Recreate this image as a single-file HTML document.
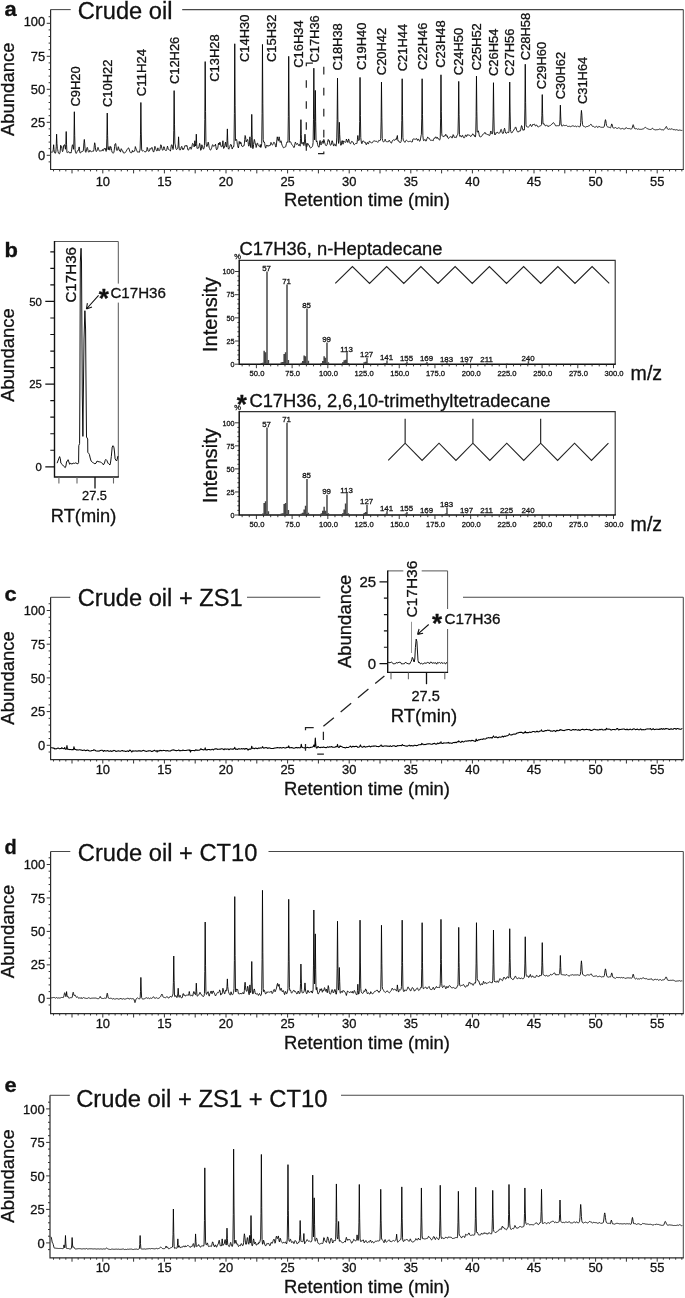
<!DOCTYPE html>
<html><head><meta charset="utf-8"><title>Figure</title>
<style>html,body{margin:0;padding:0;background:#fff}svg{display:block}text{font-family:"Liberation Sans", sans-serif;stroke:#111;stroke-width:.3px}</style>
</head><body>
<svg width="685" height="1298" viewBox="0 0 685 1298">
<rect width="685" height="1298" fill="#fff"/>
<g opacity="0.999">
<path d="M683.3,169.5 V9.6" fill="none" stroke="#484848" stroke-width="1.05"/>
<path d="M50.6,9.6 V169.5 H683.8" fill="none" stroke="#2a2a2a" stroke-width="1.2"/>
<line x1="50.6" y1="9.6" x2="70.7" y2="9.6" stroke="#484848" stroke-width="1.05"/>
<line x1="182.2" y1="9.6" x2="683.3" y2="9.6" stroke="#484848" stroke-width="1.05"/>
<path d="M50.6,161.9 h-2M50.6,155.3 h-3.9M50.6,148.7 h-2M50.6,142.1 h-2M50.6,135.5 h-2M50.6,128.9 h-2M50.6,122.3 h-3.9M50.6,115.7 h-2M50.6,109.1 h-2M50.6,102.5 h-2M50.6,95.9 h-2M50.6,89.3 h-3.9M50.6,82.7 h-2M50.6,76.1 h-2M50.6,69.5 h-2M50.6,62.9 h-2M50.6,56.3 h-3.9M50.6,49.7 h-2M50.6,43.1 h-2M50.6,36.5 h-2M50.6,29.9 h-2M50.6,23.3 h-3.9M50.6,16.7 h-2" fill="none" stroke="#333" stroke-width="1"/>
<text x="45.2" y="159.9" font-size="12.9" text-anchor="end" fill="#111">0</text>
<text x="45.2" y="126.9" font-size="12.9" text-anchor="end" fill="#111">25</text>
<text x="45.2" y="93.9" font-size="12.9" text-anchor="end" fill="#111">50</text>
<text x="45.2" y="60.9" font-size="12.9" text-anchor="end" fill="#111">75</text>
<text x="45.2" y="26.1" font-size="12.9" text-anchor="end" fill="#111">100</text>
<path d="M53.52,169.5 v1.9M59.68,169.5 v1.9M65.84,169.5 v1.9M72,169.5 v3.9M78.16,169.5 v1.9M84.32,169.5 v1.9M90.48,169.5 v1.9M96.64,169.5 v1.9M102.8,169.5 v3.9M108.96,169.5 v1.9M115.12,169.5 v1.9M121.28,169.5 v1.9M127.44,169.5 v1.9M133.6,169.5 v3.9M139.76,169.5 v1.9M145.92,169.5 v1.9M152.08,169.5 v1.9M158.24,169.5 v1.9M164.4,169.5 v3.9M170.56,169.5 v1.9M176.72,169.5 v1.9M182.88,169.5 v1.9M189.04,169.5 v1.9M195.2,169.5 v3.9M201.36,169.5 v1.9M207.52,169.5 v1.9M213.68,169.5 v1.9M219.84,169.5 v1.9M226,169.5 v3.9M232.16,169.5 v1.9M238.32,169.5 v1.9M244.48,169.5 v1.9M250.64,169.5 v1.9M256.8,169.5 v3.9M262.96,169.5 v1.9M269.12,169.5 v1.9M275.28,169.5 v1.9M281.44,169.5 v1.9M287.6,169.5 v3.9M293.76,169.5 v1.9M299.92,169.5 v1.9M306.08,169.5 v1.9M312.24,169.5 v1.9M318.4,169.5 v3.9M324.56,169.5 v1.9M330.72,169.5 v1.9M336.88,169.5 v1.9M343.04,169.5 v1.9M349.2,169.5 v3.9M355.36,169.5 v1.9M361.52,169.5 v1.9M367.68,169.5 v1.9M373.84,169.5 v1.9M380,169.5 v3.9M386.16,169.5 v1.9M392.32,169.5 v1.9M398.48,169.5 v1.9M404.64,169.5 v1.9M410.8,169.5 v3.9M416.96,169.5 v1.9M423.12,169.5 v1.9M429.28,169.5 v1.9M435.44,169.5 v1.9M441.6,169.5 v3.9M447.76,169.5 v1.9M453.92,169.5 v1.9M460.08,169.5 v1.9M466.24,169.5 v1.9M472.4,169.5 v3.9M478.56,169.5 v1.9M484.72,169.5 v1.9M490.88,169.5 v1.9M497.04,169.5 v1.9M503.2,169.5 v3.9M509.36,169.5 v1.9M515.52,169.5 v1.9M521.68,169.5 v1.9M527.84,169.5 v1.9M534,169.5 v3.9M540.16,169.5 v1.9M546.32,169.5 v1.9M552.48,169.5 v1.9M558.64,169.5 v1.9M564.8,169.5 v3.9M570.96,169.5 v1.9M577.12,169.5 v1.9M583.28,169.5 v1.9M589.44,169.5 v1.9M595.6,169.5 v3.9M601.76,169.5 v1.9M607.92,169.5 v1.9M614.08,169.5 v1.9M620.24,169.5 v1.9M626.4,169.5 v3.9M632.56,169.5 v1.9M638.72,169.5 v1.9M644.88,169.5 v1.9M651.04,169.5 v1.9M657.2,169.5 v3.9M663.36,169.5 v1.9M669.52,169.5 v1.9M675.68,169.5 v1.9M681.84,169.5 v1.9" fill="none" stroke="#333" stroke-width="1"/>
<text x="102.8" y="185.8" font-size="12.9" text-anchor="middle" fill="#111">10</text>
<text x="164.4" y="185.8" font-size="12.9" text-anchor="middle" fill="#111">15</text>
<text x="226" y="185.8" font-size="12.9" text-anchor="middle" fill="#111">20</text>
<text x="287.6" y="185.8" font-size="12.9" text-anchor="middle" fill="#111">25</text>
<text x="349.2" y="185.8" font-size="12.9" text-anchor="middle" fill="#111">30</text>
<text x="410.8" y="185.8" font-size="12.9" text-anchor="middle" fill="#111">35</text>
<text x="472.4" y="185.8" font-size="12.9" text-anchor="middle" fill="#111">40</text>
<text x="534" y="185.8" font-size="12.9" text-anchor="middle" fill="#111">45</text>
<text x="595.6" y="185.8" font-size="12.9" text-anchor="middle" fill="#111">50</text>
<text x="657.2" y="185.8" font-size="12.9" text-anchor="middle" fill="#111">55</text>
<text x="367" y="205.5" font-size="18.2" text-anchor="middle" textLength="166" lengthAdjust="spacingAndGlyphs" fill="#111">Retention time (min)</text>
<text transform="translate(14.4,89.3) rotate(-90)" font-size="18.2" text-anchor="middle" textLength="93.5" lengthAdjust="spacingAndGlyphs" fill="#111">Abundance</text>
<text x="4.6" y="16" font-size="19.3" font-weight="bold" textLength="12.2" lengthAdjust="spacingAndGlyphs" fill="#111">a</text>
<text x="77.8" y="18.8" font-size="23.5" textLength="94.6" lengthAdjust="spacingAndGlyphs" fill="#111">Crude oil</text>
<path d="M51.06,151.8 51.43,152.06 51.8,152.32 52.16,152.48 52.53,152.13 52.9,151.6 53.27,149.33 53.64,144.74 54.01,149.35 54.38,152.25 54.75,152.96 55.12,153.42 55.49,153.06 55.86,151.98 56.23,146.25 56.6,134.18 56.97,143.68 57.34,148.29 57.71,149.72 58.08,151.66 58.45,153.03 58.82,153.52 59.19,153.81 59.56,153.76 59.93,152.87 60.3,150.15 60.67,145.28 61.04,146.06 61.4,147.29 61.77,146.78 62.14,150.33 62.51,151.69 62.88,151.14 63.25,149.21 63.62,145.65 63.99,145.61 64.36,144.74 64.73,144.77 65.1,147.16 65.47,149.24 65.84,144.48 66.21,131.54 66.58,144.81 66.95,152.34 67.32,152.74 67.69,152.46 68.06,152.17 68.43,151.92 68.8,151.67 69.17,152.22 69.54,152.89 69.91,153.1 70.28,152.43 70.64,152.95 71.01,153.16 71.38,151.7 71.75,149.09 72.12,146.11 72.49,144.74 72.86,145.51 73.23,147.74 73.6,149.28 73.97,138.99 74.34,111.74 74.71,135.79 75.08,149.78 75.45,151.9 75.82,152.83 76.19,153.44 76.56,152.82 76.93,152.14 77.3,151.3 77.67,150.58 78.04,150.09 78.41,150.3 78.78,148.97 79.15,146.92 79.52,149.72 79.88,152.41 80.25,153.13 80.62,152.84 80.99,152.27 81.36,151.68 81.73,151.67 82.1,151.52 82.47,151.46 82.84,151.42 83.21,150.99 83.58,148.08 83.95,142.43 84.32,139.46 84.69,143.17 85.06,148.7 85.43,151.82 85.8,152.33 86.17,151.51 86.54,149.84 86.91,148.07 87.28,147.38 87.65,148.52 88.02,150.34 88.39,151.64 88.76,152.23 89.12,152.03 89.49,151.06 89.86,150.19 90.23,150.66 90.6,151.4 90.97,151.59 91.34,151.65 91.71,151.66 92.08,151.55 92.45,151.32 92.82,151.09 93.19,151.28 93.56,151.2 93.93,149.54 94.3,145.41 94.67,142.76 95.04,144.13 95.41,147.82 95.78,150.44 96.15,151.46 96.52,151.41 96.89,150.97 97.26,149.9 97.63,148.28 98,147.38 98.36,148.17 98.73,149.66 99.1,150.68 99.47,151.02 99.84,151.04 100.21,150.98 100.58,150.91 100.95,150.82 101.32,150.74 101.69,151.02 102.06,150.52 102.43,149.54 102.8,150.55 103.17,150.85 103.54,149.66 103.91,148.7 104.28,148.96 104.65,148.86 105.02,148.03 105.39,148.97 105.76,150.69 106.13,151.41 106.5,150.37 106.87,138.2 107.24,113.06 107.6,135.27 107.97,149.22 108.34,149.81 108.71,147.36 109.08,146.52 109.45,149.46 109.82,150.18 110.19,148.32 110.56,146.46 110.93,146.76 111.3,148.4 111.67,150.52 112.04,152.03 112.41,152.68 112.78,152.99 113.15,152.99 113.52,152.93 113.89,152.59 114.26,150.28 114.63,146.38 115,144.08 115.37,143.69 115.74,143.58 116.11,146.76 116.48,149.71 116.84,150.41 117.21,150.4 117.58,149.88 117.95,148.14 118.32,146.72 118.69,147.74 119.06,149.88 119.43,150.58 119.8,149.82 120.17,151.58 120.54,151.93 120.91,150.24 121.28,148.7 121.65,149.41 122.02,150.52 122.39,150.84 122.76,150.77 123.13,152.17 123.5,152.96 123.87,153.11 124.24,153.24 124.61,152.99 124.98,152.53 125.35,152.08 125.72,151.88 126.08,151.62 126.45,150.86 126.82,149.77 127.19,149.55 127.56,149.14 127.93,148.6 128.3,147.72 128.67,148.04 129.04,148.81 129.41,150.06 129.78,151.35 130.15,152.23 130.52,152.64 130.89,152.77 131.26,152.79 131.63,152.73 132,152 132.37,150.48 132.74,151.77 133.11,152.05 133.48,151.54 133.85,151.09 134.22,151.19 134.59,151.11 134.96,149.54 135.32,146.58 135.69,147.63 136.06,148.7 136.43,149.44 136.8,150.7 137.17,151.72 137.54,152.08 137.91,151.77 138.28,151.57 138.65,151.97 139.02,152.5 139.39,151.91 139.76,150.9 140.13,148.89 140.5,134.82 140.87,102.5 141.24,131.95 141.61,148.99 141.98,150.82 142.35,151.02 142.72,150.79 143.09,150.47 143.46,150.62 143.83,150.99 144.2,151.37 144.56,151.64 144.93,151.88 145.3,152.12 145.67,151.4 146.04,150.9 146.41,151.1 146.78,150.98 147.15,147.38 147.52,147.98 147.89,149.58 148.26,150.92 148.63,151.48 149,151.28 149.37,151.01 149.74,150.1 150.11,148.41 150.48,148.79 150.85,149.23 151.22,148.68 151.59,147.79 151.96,147.38 152.33,148.25 152.7,149.79 153.07,151.12 153.44,151.94 153.8,151.93 154.17,150.66 154.54,148.24 154.91,146.34 155.28,147.26 155.65,148.34 156.02,149.47 156.39,150.41 156.76,150.99 157.13,150.88 157.5,149.86 157.87,147.83 158.24,149.46 158.61,150.45 158.98,150.53 159.35,150.63 159.72,150.33 160.09,148.93 160.46,146.42 160.83,144.74 161.2,145.15 161.57,146.98 161.94,148.66 162.31,149.81 162.68,150.34 163.04,150.02 163.41,148.47 163.78,146.72 164.15,146.8 164.52,148.26 164.89,149.75 165.26,150.18 165.63,150.47 166,150.6 166.37,150.48 166.74,149.67 167.11,147.72 167.48,146.14 167.85,147.38 168.22,148.93 168.59,149.46 168.96,149.63 169.33,149.75 169.7,150.21 170.07,150.73 170.44,151.04 170.81,149.16 171.18,145.87 171.55,144.83 171.92,144.74 172.28,146.04 172.65,148.23 173.02,149.52 173.39,148.4 173.76,130.74 174.13,90.62 174.5,124.17 174.87,143.17 175.24,144.89 175.61,146.97 175.98,148.77 176.35,149.48 176.72,149.53 177.09,149.1 177.46,148.58 177.83,147.95 178.2,144.87 178.57,136.82 178.94,145.24 179.31,149.62 179.68,149.86 180.05,149.99 180.42,149.9 180.79,148.8 181.16,147.22 181.52,146.57 181.89,146.35 182.26,148.53 182.63,149.49 183,148.23 183.37,149.32 183.74,149.42 184.11,148.21 184.48,147.24 184.85,146.01 185.22,145.4 185.59,145.82 185.96,146.37 186.33,146.11 186.7,145.34 187.07,145.89 187.44,147.71 187.81,149.47 188.18,150.28 188.55,150.04 188.92,149.45 189.29,148.52 189.66,148.08 190.03,147.05 190.4,147.21 190.76,148.5 191.13,149.3 191.5,148.61 191.87,146.96 192.24,144.8 192.61,143.42 192.98,143.58 193.35,144.21 193.72,144.89 194.09,147.03 194.46,146.27 194.83,140.76 195.2,143.94 195.57,146.06 195.94,143.27 196.31,134.18 196.68,143.75 197.05,148.42 197.42,148.38 197.79,148.2 198.16,148.46 198.53,148.11 198.9,146.9 199.27,145 199.64,143.33 200,144.74 200.37,147.92 200.74,150.33 201.11,149.88 201.48,148.06 201.85,144.76 202.22,145.95 202.59,146.21 202.96,148.18 203.33,149.15 203.7,148.92 204.07,148.03 204.44,145.4 204.81,119.6 205.18,61.58 205.55,111.41 205.92,141.7 206.29,144.92 206.66,146.41 207.03,146.54 207.4,145.79 207.77,143.64 208.14,142.1 208.51,142.75 208.88,145.75 209.24,147.86 209.61,148.41 209.98,149.6 210.35,150.22 210.72,149.87 211.09,149.37 211.46,148.59 211.83,147.3 212.2,145.74 212.57,144.74 212.94,144.84 213.31,145.49 213.68,146.38 214.05,146.06 214.42,145.79 214.79,145.94 215.16,145.37 215.53,144.21 215.9,146.59 216.27,149.04 216.64,149.87 217.01,149.41 217.38,148.9 217.75,148.17 218.12,145.71 218.48,143.17 218.85,144.32 219.22,144.9 219.59,142.98 219.96,142.1 220.33,143.14 220.7,144.94 221.07,146.31 221.44,146.95 221.81,146.83 222.18,146.45 222.55,144.91 222.92,140.78 223.29,145.91 223.66,148.45 224.03,148.19 224.4,147.41 224.77,145.73 225.14,143.56 225.51,142.1 225.88,144.8 226.25,146.8 226.62,146.96 226.99,141.27 227.36,128.9 227.72,140.34 228.09,147.29 228.46,148.83 228.83,149.22 229.2,148.17 229.57,147.44 229.94,146.32 230.31,144.89 230.68,144.25 231.05,144.74 231.42,144.98 231.79,147.4 232.16,149.06 232.53,148.27 232.9,147.18 233.27,146.71 233.64,146.99 234.01,144.39 234.38,113.37 234.75,43.76 235.12,105.24 235.49,140.53 235.86,140.39 236.23,139.78 236.6,139.43 236.96,141.48 237.33,144.28 237.7,145.8 238.07,147.28 238.44,147.97 238.81,145.68 239.18,141.43 239.55,142 239.92,143.96 240.29,143.7 240.66,142.1 241.03,142.42 241.4,144.61 241.77,146.03 242.14,146.07 242.51,146.61 242.88,146.59 243.25,145.91 243.62,145.87 243.99,145.92 244.36,143.82 244.73,139.35 245.1,135.5 245.47,136.25 245.84,139.24 246.2,141.98 246.57,140.73 246.94,140.66 247.31,139.71 247.68,139.46 248.05,141.52 248.42,144.73 248.79,146.19 249.16,145.19 249.53,142.85 249.9,136.82 250.27,142.91 250.64,147.14 251.01,147.68 251.38,137.61 251.75,114.38 252.12,134.9 252.49,147.18 252.86,148.65 253.23,147.97 253.6,144.51 253.97,141.31 254.34,139.46 254.71,140.76 255.08,142.83 255.44,144.11 255.81,145.31 256.18,147.46 256.55,146.27 256.92,143.57 257.29,143.42 257.66,143.2 258.03,144.93 258.4,145.41 258.77,145.91 259.14,146.31 259.51,146.75 259.88,146.58 260.25,144.54 260.62,147.3 260.99,147.5 261.36,146.08 261.73,143.31 262.1,113.47 262.47,44.42 262.84,103.82 263.21,139.65 263.58,141.98 263.95,142.43 264.32,142.07 264.68,143.33 265.05,146.07 265.42,147.81 265.79,148.13 266.16,146.27 266.53,145.34 266.9,145.03 267.27,145.86 267.64,146.21 268.01,145.49 268.38,146.18 268.75,146.1 269.12,145.43 269.49,145.61 269.86,145.83 270.23,145.31 270.6,143.7 270.97,142.4 271.34,143.2 271.71,144.4 272.08,144.78 272.45,145.02 272.82,144.7 273.19,143.79 273.56,142.56 273.92,142.1 274.29,142.43 274.66,143.05 275.03,143.87 275.4,145.55 275.77,146.91 276.14,146.85 276.51,143.97 276.88,139.68 277.25,136.81 277.62,138.11 277.99,140.46 278.36,140.81 278.73,138.58 279.1,136.82 279.47,138.23 279.84,141.2 280.21,142.44 280.58,141.5 280.95,140.75 281.32,141.92 281.69,143.84 282.06,145.17 282.43,145.72 282.8,146.63 283.16,147.34 283.53,147.84 283.9,147.73 284.27,147.52 284.64,147.11 285.01,147.09 285.38,147.06 285.75,146.49 286.12,144.92 286.49,143.44 286.86,142.21 287.23,142.42 287.6,141.7 287.97,142.28 288.34,116.29 288.71,56.3 289.08,109.05 289.45,140.41 289.82,142.35 290.19,141.67 290.56,142.07 290.93,142.53 291.3,143.47 291.67,144.34 292.04,144.83 292.4,145.27 292.77,145.62 293.14,146.16 293.51,146.9 293.88,147.63 294.25,147.18 294.62,145.84 294.99,143.54 295.36,142.1 295.73,142.78 296.1,143.74 296.47,144.42 296.84,144.2 297.21,143.64 297.58,143.42 297.95,144.17 298.32,145.24 298.69,145.57 299.06,144.84 299.43,144.41 299.8,145.48 300.17,146.2 300.54,138.28 300.91,119.66 301.28,134.55 301.64,143.4 302.01,144.12 302.38,143.93 302.75,143.54 303.12,142.1 303.49,144.6 303.86,145.59 304.23,144.49 304.6,139.92 304.97,134.18 305.34,138.8 305.71,143.75 306.08,145.98 306.45,147.19 306.82,146.67 307.19,145.18 307.56,143.48 307.93,143.42 308.3,144.16 308.67,145.1 309.04,145.69 309.41,145.66 309.78,147.02 310.15,147.7 310.52,147.92 310.88,147.95 311.25,147.69 311.62,147.42 311.99,147.02 312.36,146.4 312.73,145.34 313.1,142.67 313.47,119.7 313.84,68.18 314.21,113.89 314.58,139.86 314.95,127.52 315.32,90.42 315.69,121.42 316.06,140.17 316.43,141.8 316.8,140.81 317.17,142.08 317.54,144.41 317.91,145.78 318.28,146.41 318.65,147.03 319.02,147.39 319.39,145.08 319.76,141.23 320.12,140.46 320.49,143.64 320.86,144.82 321.23,144.78 321.6,143.51 321.97,141.56 322.34,141.46 322.71,140.85 323.08,143.48 323.45,142.74 323.82,139.46 324.19,140.37 324.56,142.1 324.93,143.32 325.3,144.52 325.67,145.39 326.04,145.52 326.41,145.63 326.78,145.16 327.15,144.42 327.52,142.63 327.89,140.68 328.26,139.46 328.63,140.24 329,141.25 329.36,140.67 329.73,143.2 330.1,144.77 330.47,145.13 330.84,145.25 331.21,144.54 331.58,142.74 331.95,140.78 332.32,140.83 332.69,142 333.06,144.09 333.43,145.49 333.8,146.09 334.17,144.52 334.54,144.03 334.91,143.75 335.28,144.79 335.65,145.79 336.02,146.17 336.39,144.1 336.76,137.91 337.13,119.63 337.5,78.08 337.87,117 338.24,140.36 338.6,143.44 338.97,138.17 339.34,122.28 339.71,134.51 340.08,140.88 340.45,143.6 340.82,145.33 341.19,145.1 341.56,142.95 341.93,140.78 342.3,140.68 342.67,142.81 343.04,144.23 343.41,142.32 343.78,140.89 344.15,141.63 344.52,142.01 344.89,142.08 345.26,142.11 345.63,142.41 346,141.64 346.37,139.02 346.74,140.12 347.11,140.61 347.48,142.11 347.84,142.53 348.21,140.69 348.58,138.94 348.95,139.96 349.32,141.62 349.69,142.62 350.06,143.3 350.43,143.81 350.8,143.48 351.17,142.36 351.54,141.44 351.91,141.54 352.28,141.89 352.65,141.66 353.02,142.25 353.39,142.92 353.76,144.35 354.13,144.72 354.5,144.66 354.87,144.35 355.24,143.91 355.61,143.45 355.98,143.27 356.35,143.38 356.72,143.74 357.08,142.74 357.45,139.26 357.82,135.5 358.19,139.07 358.56,140.46 358.93,140.57 359.3,140.14 359.67,121.5 360.04,77.42 360.41,115.57 360.78,137.52 361.15,141.02 361.52,143.05 361.89,143.7 362.26,142.82 362.63,141.15 363,140.76 363.37,140.9 363.74,141.37 364.11,142.1 364.48,142.27 364.85,142.3 365.22,142.15 365.59,143.21 365.96,144.16 366.32,144.76 366.69,143.77 367.06,142.78 367.43,142.39 367.8,143.19 368.17,143.98 368.54,143.75 368.91,142.48 369.28,141.22 369.65,141.15 370.02,141.69 370.39,142.22 370.76,142.46 371.13,142.64 371.5,142.8 371.87,142.82 372.24,142.75 372.61,142.51 372.98,141.83 373.35,141.18 373.72,140.78 374.09,140.77 374.46,140.92 374.83,141.11 375.2,141.24 375.56,141.29 375.93,141.32 376.3,141.35 376.67,141.35 377.04,141.66 377.41,142.04 377.78,142.42 378.15,141.64 378.52,140.86 378.89,140.25 379.26,140.46 379.63,140.66 380,140.73 380.37,140.27 380.74,138.4 381.11,121.08 381.48,82.04 381.85,117.81 382.22,138.37 382.59,140.42 382.96,141.36 383.33,141.85 383.7,141.87 384.07,141.68 384.44,141.16 384.8,140.33 385.17,139.27 385.54,140.43 385.91,141.34 386.28,141.71 386.65,141.69 387.02,141.66 387.39,141.71 387.76,141.82 388.13,141.93 388.5,141.5 388.87,140.8 389.24,140.1 389.61,140.66 389.98,141.47 390.35,142.28 390.72,142.63 391.09,142.98 391.46,143.11 391.83,142.14 392.2,141.17 392.57,140.44 392.94,140.17 393.31,139.91 393.68,139.88 394.04,140.1 394.41,140.31 394.78,140.32 395.15,139.6 395.52,138.88 395.89,139.43 396.26,139.53 396.63,137.7 397,136.93 397.37,135.5 397.74,139.56 398.11,141.1 398.48,140.94 398.85,140.95 399.22,141.66 399.59,142.36 399.96,142.67 400.33,142.57 400.7,142.41 401.07,141.65 401.44,139.28 401.81,120.4 402.18,78.74 402.55,115.59 402.92,137.42 403.28,140.22 403.65,140.84 404.02,140.92 404.39,141.61 404.76,142.24 405.13,142.27 405.5,141.4 405.87,140.53 406.24,140.2 406.61,140.42 406.98,140.64 407.35,140.97 407.72,141.34 408.09,141.72 408.46,141.7 408.83,141.61 409.2,141.52 409.57,141.39 409.94,141.27 410.31,141.21 410.68,141.42 411.05,141.63 411.42,141.84 411.79,142.04 412.16,142.05 412.52,140.92 412.89,139.35 413.26,138.8 413.63,139.09 414,139.22 414.37,139.09 414.74,139.24 415.11,139.19 415.48,139.22 415.85,139.14 416.22,138.85 416.59,138.49 416.96,139.39 417.33,140.35 417.7,140.26 418.07,139.01 418.44,139.15 418.81,139.76 419.18,140.56 419.55,141.3 419.92,141.06 420.29,140.09 420.66,138.08 421.03,135.93 421.4,134.3 421.76,118.24 422.13,78.74 422.5,114.51 422.87,135.61 423.24,139.23 423.61,140.63 423.98,140.67 424.35,140.17 424.72,139.53 425.09,139.5 425.46,140.35 425.83,141.18 426.2,140.95 426.57,139.78 426.94,138.63 427.31,138.09 427.68,137.09 428.05,137.36 428.42,138.28 428.79,138.04 429.16,138.14 429.53,138.49 429.9,139.49 430.27,140.16 430.64,140.41 431,140.38 431.37,140.3 431.74,140.23 432.11,140.16 432.48,140.34 432.85,140.63 433.22,140.73 433.59,139.31 433.96,138.68 434.33,137.88 434.7,138.15 435.07,138.27 435.44,137.48 435.81,136.78 436.18,137.43 436.55,138.28 436.92,138.15 437.29,137.29 437.66,138.3 438.03,138.85 438.4,138.61 438.77,138.94 439.14,139.58 439.51,140.17 439.88,139.81 440.24,137.82 440.61,118.77 440.98,74.78 441.35,111.72 441.72,133.19 442.09,135.68 442.46,136.12 442.83,136.32 443.2,136.02 443.57,136.62 443.94,136.56 444.31,135.88 444.68,135.9 445.05,136.01 445.42,135.15 445.79,134.29 446.16,135.33 446.53,136.22 446.9,135.88 447.27,135.81 447.64,136.96 448.01,138.18 448.38,138.5 448.75,138.32 449.12,137.65 449.48,137.33 449.85,137.03 450.22,136.82 450.59,136.66 450.96,136.35 451.33,136.69 451.7,137.44 452.07,138.14 452.44,137.16 452.81,135.83 453.18,134.63 453.55,135.02 453.92,136.24 454.29,137.36 454.66,137.4 455.03,137.25 455.4,137.24 455.77,137.56 456.14,137.74 456.51,136.93 456.88,135.61 457.25,135.01 457.62,134.74 457.99,133.11 458.36,116.88 458.72,81.38 459.09,114.58 459.46,134.65 459.83,136.39 460.2,136.13 460.57,135.63 460.94,136.35 461.31,137.05 461.68,136.96 462.05,135.96 462.42,135.24 462.79,135.53 463.16,136.61 463.53,137.61 463.9,137.88 464.27,137.79 464.64,137.59 465.01,136.44 465.38,135.21 465.75,134.86 466.12,135.86 466.49,136.48 466.86,136.28 467.23,134.74 467.6,134.84 467.96,134.97 468.33,135.01 468.7,135 469.07,135.07 469.44,135.24 469.81,135.41 470.18,135.92 470.55,136.48 470.92,136.52 471.29,135.45 471.66,135.33 472.03,135.29 472.4,134.73 472.77,133.77 473.14,134.23 473.51,135.16 473.88,135.17 474.25,135.12 474.62,136.01 474.99,136.99 475.36,136.89 475.73,134.88 476.1,116.74 476.47,76.1 476.84,111.41 477.2,131.51 477.57,132.24 477.94,131.38 478.31,130.8 478.68,132.09 479.05,134.22 479.42,136.06 479.79,136.67 480.16,136.82 480.53,136.8 480.9,136.71 481.27,136.61 481.64,136.3 482.01,135.76 482.38,135.02 482.75,134.42 483.12,134.39 483.49,134.1 483.86,133.7 484.23,133.15 484.6,132.86 484.97,132.34 485.34,133.31 485.71,134.04 486.08,134.19 486.44,134.06 486.81,134 487.18,134.3 487.55,134.56 487.92,134.62 488.29,134.54 488.66,135.28 489.03,135.62 489.4,135.52 489.77,135.33 490.14,134.16 490.51,132.21 490.88,130.98 491.25,132.43 491.62,133.55 491.99,133.93 492.36,133.88 492.73,131.94 493.1,116.13 493.47,82.7 493.84,113.12 494.21,131.16 494.58,133.92 494.95,135.01 495.32,134.61 495.68,133.58 496.05,132.53 496.42,132.78 496.79,133.08 497.16,132.88 497.53,132.18 497.9,132.49 498.27,133.09 498.64,133.35 499.01,133.28 499.38,133.11 499.75,132.87 500.12,132.15 500.49,130.79 500.86,129.56 501.23,129.36 501.6,130.45 501.97,131.92 502.34,133.04 502.71,133.49 503.08,133.51 503.45,133.07 503.82,131.35 504.19,129.32 504.56,128.24 504.92,129.54 505.29,131.51 505.66,133.01 506.03,133.37 506.4,133.35 506.77,133.01 507.14,132.48 507.51,131.95 507.88,132.11 508.25,132.58 508.62,132.74 508.99,131.21 509.36,116.07 509.73,82.04 510.1,111.96 510.47,129.58 510.84,131.59 511.21,132.48 511.58,132.95 511.95,132.95 512.32,132.2 512.69,131.46 513.06,131.02 513.43,130.74 513.8,129.78 514.16,129.22 514.53,129.21 514.9,128.68 515.27,127.39 515.64,126.92 516.01,127.6 516.38,129.1 516.75,130.38 517.12,131.05 517.49,131.7 517.86,132.1 518.23,132.13 518.6,131.56 518.97,130.98 519.34,130.87 519.71,131.18 520.08,131.3 520.45,130.75 520.82,129.15 521.19,127.04 521.56,125.6 521.93,126.14 522.3,127.83 522.67,129.58 523.04,130.45 523.4,130.15 523.77,129.58 524.14,130.13 524.51,128.86 524.88,108.92 525.25,64.22 525.62,102.28 525.99,124.5 526.36,126.46 526.73,126.67 527.1,126.74 527.47,126.97 527.84,127.01 528.21,127 528.58,126.98 528.95,126.66 529.32,126.3 529.69,125.72 530.06,124.89 530.43,124.32 530.8,124.97 531.17,125.96 531.54,126.47 531.91,126.38 532.28,125.76 532.64,124.59 533.01,124.01 533.38,124.36 533.75,124.74 534.12,124.28 534.49,124.21 534.86,124.53 535.23,125.62 535.6,126.04 535.97,125.71 536.34,124.93 536.71,124.97 537.08,125.58 537.45,126.38 537.82,126.85 538.19,126.95 538.56,126.78 538.93,126.61 539.3,126.37 539.67,126.11 540.04,125.84 540.41,125.77 540.78,125.71 541.15,125.47 541.52,124.5 541.88,115.28 542.25,94.58 542.62,113.22 542.99,123.85 543.36,124.14 543.73,123.54 544.1,123.93 544.47,124.84 544.84,125.48 545.21,125.82 545.58,125.78 545.95,125.26 546.32,124.88 546.69,125.4 547.06,125.86 547.43,125.99 547.8,126.04 548.17,125.69 548.54,126.49 548.91,126.39 549.28,125.97 549.65,125.65 550.02,125.54 550.39,125.42 550.76,125.31 551.12,124.95 551.49,124.51 551.86,124.37 552.23,124.01 552.6,123.19 552.97,122.81 553.34,122.7 553.71,122.96 554.08,123.15 554.45,123.66 554.82,124.36 555.19,125.11 555.56,125.74 555.93,126.06 556.3,125.94 556.67,125.71 557.04,125.61 557.41,125.67 557.78,125.72 558.15,125.73 558.52,125.72 558.89,125.69 559.26,125.66 559.63,125.15 560,119.2 560.36,105.14 560.73,116.96 561.1,123.97 561.47,125.36 561.84,126.07 562.21,126.26 562.58,125.71 562.95,125.16 563.32,125 563.69,125.24 564.06,125.47 564.43,125.57 564.8,125.6 565.17,125.63 565.54,125.51 565.91,125.36 566.28,125.21 566.65,125.58 567.02,125.95 567.39,126.27 567.76,126.34 568.13,126.41 568.5,126.43 568.87,126.34 569.24,126.25 569.6,126.29 569.97,126.47 570.34,126.65 570.71,126.61 571.08,126.46 571.45,126.31 571.82,126.15 572.19,125.98 572.56,125.82 572.93,125.89 573.3,125.97 573.67,126.06 574.04,126.23 574.41,126.4 574.78,126.46 575.15,126.29 575.52,126.12 575.89,126.19 576.26,126.49 576.63,126.79 577,126.63 577.37,126.24 577.74,125.86 578.11,126.11 578.48,126.49 578.84,126.86 579.21,126.83 579.58,126.8 579.95,126.71 580.32,126.05 580.69,122.62 581.06,115.21 581.43,110.42 581.8,113.93 582.17,120.39 582.54,124.43 582.91,125.78 583.28,126.08 583.65,126.15 584.02,126.2 584.39,126.52 584.76,126.91 585.13,127.28 585.5,127.12 585.87,126.96 586.24,126.8 586.61,126.48 586.98,126.07 587.35,126.46 587.72,126.54 588.08,126.03 588.45,125.89 588.82,125.93 589.19,125.76 589.56,125.62 589.93,125.26 590.3,124.81 590.67,124.28 591.04,124.21 591.41,124.6 591.78,125.46 592.15,126.12 592.52,126.36 592.89,126.38 593.26,126.32 593.63,126.39 594,126.79 594.37,127.19 594.74,127.31 595.11,127.17 595.48,127.02 595.85,126.81 596.22,126.46 596.59,126.15 596.96,126.55 597.32,127.1 597.69,127.53 598.06,127.43 598.43,126.98 598.8,126.35 599.17,126.5 599.54,126.61 599.91,126.59 600.28,126.96 600.65,127.32 601.02,127.45 601.39,127.35 601.76,127.25 602.13,127.25 602.5,127.32 602.87,127.38 603.24,127.35 603.61,127.25 603.98,126.92 604.35,126.05 604.72,123.9 605.09,121.07 605.46,119.66 605.83,120.9 606.2,123.43 606.56,125.39 606.93,126.29 607.3,126.64 607.67,126.9 608.04,127.06 608.41,127.13 608.78,127.18 609.15,127.22 609.52,127.44 609.89,127.7 610.26,127.91 610.63,127.66 611,126.7 611.37,124.97 611.74,123.88 612.11,124.59 612.48,126.15 612.85,127.42 613.22,128 613.59,128.14 613.96,128.08 614.33,128.01 614.7,127.87 615.07,127.68 615.44,127.5 615.8,127.71 616.17,127.99 616.54,128.28 616.91,128.32 617.28,128.36 617.65,128.35 618.02,128.09 618.39,127.83 618.76,127.72 619.13,127.92 619.5,128.11 619.87,128.35 620.24,128.63 620.61,128.91 620.98,128.91 621.35,128.78 621.72,128.64 622.09,128.54 622.46,128.46 622.83,128.37 623.2,128.66 623.57,128.94 623.94,129.16 624.31,129.05 624.68,128.95 625.04,128.83 625.41,128.68 625.78,128.23 626.15,127.59 626.52,128 626.89,128.31 627.26,128.42 627.63,128.55 628,128.69 628.37,128.61 628.74,128.49 629.11,128.38 629.48,128.57 629.85,128.76 630.22,128.93 630.59,128.96 630.96,129 631.33,128.96 631.7,128.72 632.07,128.24 632.44,127.18 632.81,125.53 633.18,124.68 633.55,125.5 633.92,127.03 634.28,128.03 634.65,128.58 635.02,128.68 635.39,128.75 635.76,128.85 636.13,128.87 636.5,128.61 636.87,128.98 637.24,129.24 637.61,129.26 637.98,129.11 638.35,128.96 638.72,128.97 639.09,129.13 639.46,129.3 639.83,129.35 640.2,129.33 640.57,129.32 640.94,129.32 641.31,129.32 641.68,129.32 642.05,129.21 642.42,129.08 642.79,128.95 643.16,128.89 643.52,128.74 643.89,128.48 644.26,128.11 644.63,127.81 645,127.58 645.37,127.44 645.74,127.44 646.11,127.75 646.48,128.17 646.85,128.53 647.22,128.66 647.59,128.7 647.96,128.68 648.33,128.98 648.7,129.27 649.07,129.49 649.44,129.43 649.81,129.37 650.18,129.37 650.55,129.5 650.92,129.6 651.29,129.43 651.66,128.94 652.03,128.38 652.4,128.24 652.76,128.51 653.13,128.94 653.5,129.26 653.87,129.45 654.24,129.55 654.61,129.68 654.98,129.79 655.35,129.88 655.72,129.82 656.09,129.77 656.46,129.73 656.83,129.71 657.2,129.69 657.57,129.66 657.94,129.62 658.31,129.58 658.68,129.44 659.05,129.24 659.42,129.05 659.79,129.09 660.16,129.18 660.53,129.28 660.9,129.46 661.27,129.64 661.64,129.79 662,129.77 662.37,129.74 662.74,129.76 663.11,129.85 663.48,129.94 663.85,129.82 664.22,129.47 664.59,128.98 664.96,128.54 665.33,127.96 665.7,127.31 666.07,126.66 666.44,126.57 666.81,127.39 667.18,128.41 667.55,129.02 667.92,129.32 668.29,129.37 668.66,129.32 669.03,129.23 669.4,129.07 669.77,128.81 670.14,128.82 670.51,129.31 670.88,129.43 671.24,129.13 671.61,128.79 671.98,128.64 672.35,128.85 672.72,129.25 673.09,129.7 673.46,129.68 673.83,129.56 674.2,129.45 674.57,129.7 674.94,129.92 675.31,130.02 675.68,129.86 676.05,129.7 676.42,129.67 676.79,129.77 677.16,129.86 677.53,130.02 677.9,130.19 678.27,130.37 678.64,130.3 679.01,130.18 679.38,130.05 679.75,130.11 680.12,130.17 680.48,130.24 680.85,130.31 681.22,130.39 681.59,130.42 681.96,130.38 682.33,130.34" fill="none" stroke="#000" stroke-width="0.9" stroke-linejoin="round"/>
<text transform="translate(79.7,106.5) rotate(-90)" font-size="13" textLength="40.2" lengthAdjust="spacingAndGlyphs" fill="#111">C9H20</text>
<text transform="translate(111.9,107) rotate(-90)" font-size="13" textLength="47.4" lengthAdjust="spacingAndGlyphs" fill="#111">C10H22</text>
<text transform="translate(146.1,96.3) rotate(-90)" font-size="13" textLength="47.4" lengthAdjust="spacingAndGlyphs" fill="#111">C11H24</text>
<text transform="translate(178.8,84.1) rotate(-90)" font-size="13" textLength="47.4" lengthAdjust="spacingAndGlyphs" fill="#111">C12H26</text>
<text transform="translate(219.3,81.8) rotate(-90)" font-size="13" textLength="47.4" lengthAdjust="spacingAndGlyphs" fill="#111">C13H28</text>
<text transform="translate(248.7,62) rotate(-90)" font-size="13" textLength="47.4" lengthAdjust="spacingAndGlyphs" fill="#111">C14H30</text>
<text transform="translate(276.3,62) rotate(-90)" font-size="13" textLength="47.4" lengthAdjust="spacingAndGlyphs" fill="#111">C15H32</text>
<text transform="translate(302.9,67.8) rotate(-90)" font-size="13" textLength="47.4" lengthAdjust="spacingAndGlyphs" fill="#111">C16H34</text>
<text transform="translate(318.8,62.6) rotate(-90)" font-size="13" textLength="47.4" lengthAdjust="spacingAndGlyphs" fill="#111">C17H36</text>
<text transform="translate(342,70.6) rotate(-90)" font-size="13" textLength="47.4" lengthAdjust="spacingAndGlyphs" fill="#111">C18H38</text>
<text transform="translate(366.1,70) rotate(-90)" font-size="13" textLength="47.4" lengthAdjust="spacingAndGlyphs" fill="#111">C19H40</text>
<text transform="translate(386.1,75.2) rotate(-90)" font-size="13" textLength="47.4" lengthAdjust="spacingAndGlyphs" fill="#111">C20H42</text>
<text transform="translate(407.1,71.3) rotate(-90)" font-size="13" textLength="47.4" lengthAdjust="spacingAndGlyphs" fill="#111">C21H44</text>
<text transform="translate(427,70) rotate(-90)" font-size="13" textLength="47.4" lengthAdjust="spacingAndGlyphs" fill="#111">C22H46</text>
<text transform="translate(444.7,67.8) rotate(-90)" font-size="13" textLength="47.4" lengthAdjust="spacingAndGlyphs" fill="#111">C23H48</text>
<text transform="translate(463.4,75.2) rotate(-90)" font-size="13" textLength="47.4" lengthAdjust="spacingAndGlyphs" fill="#111">C24H50</text>
<text transform="translate(481.2,70.6) rotate(-90)" font-size="13" textLength="47.4" lengthAdjust="spacingAndGlyphs" fill="#111">C25H52</text>
<text transform="translate(497.5,76) rotate(-90)" font-size="13" textLength="47.4" lengthAdjust="spacingAndGlyphs" fill="#111">C26H54</text>
<text transform="translate(513.9,76) rotate(-90)" font-size="13" textLength="47.4" lengthAdjust="spacingAndGlyphs" fill="#111">C27H56</text>
<text transform="translate(530.1,60.2) rotate(-90)" font-size="13" textLength="47.4" lengthAdjust="spacingAndGlyphs" fill="#111">C28H58</text>
<text transform="translate(546.4,89.2) rotate(-90)" font-size="13" textLength="47.4" lengthAdjust="spacingAndGlyphs" fill="#111">C29H60</text>
<text transform="translate(565.1,99.3) rotate(-90)" font-size="13" textLength="47.4" lengthAdjust="spacingAndGlyphs" fill="#111">C30H62</text>
<text transform="translate(586.7,104.1) rotate(-90)" font-size="13" textLength="47.4" lengthAdjust="spacingAndGlyphs" fill="#111">C31H64</text>
<line x1="306.3" y1="80.2" x2="306.3" y2="152.8" stroke="#222" stroke-width="1.2" stroke-dasharray="7.6 13.4"/>
<line x1="323.8" y1="66.7" x2="323.8" y2="140" stroke="#222" stroke-width="1.2" stroke-dasharray="7.8 13.2"/>
<path d="M306.3,66.3 V63.1 H312.9" fill="none" stroke="#222" stroke-width="1.2"/>
<path d="M318,153.6 H323.8 V151.6" fill="none" stroke="#222" stroke-width="1.2"/>
<path d="M54.5,241.5 H118.3 V477" fill="none" stroke="#555" stroke-width="1"/>
<path d="M54.5,241 V477 H118.8" fill="none" stroke="#111" stroke-width="1.4"/>
<path d="M54.5,466.8 h-9.2M54.5,450.26 h-4.2M54.5,433.73 h-4.2M54.5,417.19 h-4.2M54.5,400.66 h-4.2M54.5,384.12 h-9.2M54.5,367.59 h-4.2M54.5,351.06 h-4.2M54.5,334.52 h-4.2M54.5,317.99 h-4.2M54.5,301.45 h-9.2M54.5,284.92 h-4.2M54.5,268.38 h-4.2M54.5,251.85 h-4.2" fill="none" stroke="#111" stroke-width="1.2"/>
<text x="41.9" y="470.9" font-size="11.4" text-anchor="end" fill="#111">0</text>
<text x="41.9" y="388.23" font-size="11.4" text-anchor="end" fill="#111">25</text>
<text x="41.9" y="305.55" font-size="11.4" text-anchor="end" fill="#111">50</text>
<path d="M58.9,477 v6.5M77,477 v6.5M113.5,477 v6.5" fill="none" stroke="#666" stroke-width="1.1"/>
<line x1="95" y1="477" x2="95" y2="488.6" stroke="#111" stroke-width="1.3"/>
<text x="94.5" y="500.2" font-size="12.8" text-anchor="middle" fill="#111">27.5</text>
<text x="83.6" y="521.8" font-size="17.8" text-anchor="middle" textLength="65.5" lengthAdjust="spacingAndGlyphs" fill="#111">RT(min)</text>
<text transform="translate(14.4,355) rotate(-90)" font-size="18.2" text-anchor="middle" textLength="93.5" lengthAdjust="spacingAndGlyphs" fill="#111">Abundance</text>
<text x="4.6" y="257.2" font-size="19.3" font-weight="bold" textLength="13.4" lengthAdjust="spacingAndGlyphs" fill="#111">b</text>
<path d="M57.1,463.2 58.3,460 59.6,456.6 60.3,458.5 60.9,463.2 62.4,464.6 63.6,466.2 65.3,467.6 65.9,466 66.6,461.6 67.3,461.4 68.1,459.7 68.8,461.8 69.7,464.3 70.8,463.2 71.9,464.1 73.2,463.2 74.6,463.4 75.8,462.8 77,463.6 77.9,463.8 78.6,462.7 78.8,445.7 79.6,443.5 79.9,390 80.3,262 81.05,248.3 81.5,262 82.3,395 82.9,436.4 83.3,400 84,339 84.9,310.7 85.6,330 85.9,370 86.5,437 87.7,439 87.8,452.3 88.6,453.2 89.4,454.5 90.2,458 91.1,461 92.3,462.2 93.6,463 94.9,463.8 96,463.2 97.1,461 98,461.6 99.2,461.8 100.3,462 101.5,462.7 102.5,463.4 103.4,464.9 104.5,463 105.2,460.4 105.8,459.4 106.8,460.4 108,463.2 109,464.2 110,464.9 110.6,462 111.3,456.6 112.2,447 113,445.7 113.5,446.2 114,447.9 114.5,452 115.1,458.8 115.8,460 116.6,461 117.2,459.2 117.9,456.1" fill="none" stroke="#000" stroke-width="0.95" stroke-linejoin="round"/>
<text transform="translate(76.1,302.6) rotate(-90)" font-size="15" textLength="55.6" lengthAdjust="spacingAndGlyphs" fill="#111">C17H36</text>
<rect x="97.5" y="283.6" width="70" height="19" fill="#fff"/>
<text x="98.8" y="306.8" font-size="26" font-weight="bold" fill="#111">*</text>
<text x="110.4" y="298.4" font-size="15.5" textLength="55.5" lengthAdjust="spacingAndGlyphs" fill="#111">C17H36</text>
<path d="M98.6,295.4 L86.4,309 M86.4,309 l1.0,-5.8 M86.4,309 l5.6,-2.0" fill="none" stroke="#111" stroke-width="1.1"/>
<path d="M239.2,260.3 H615.2 V364.2" fill="none" stroke="#333" stroke-width="1.15"/>
<path d="M239.2,259.8 V364.2 H615.7" fill="none" stroke="#111" stroke-width="1.45"/>
<path d="M239.2,364.2 h-4.2M239.2,359.56 h-1.8M239.2,354.93 h-1.8M239.2,350.3 h-1.8M239.2,345.66 h-1.8M239.2,341.02 h-4.2M239.2,336.39 h-1.8M239.2,331.75 h-1.8M239.2,327.12 h-1.8M239.2,322.49 h-1.8M239.2,317.85 h-4.2M239.2,313.22 h-1.8M239.2,308.58 h-1.8M239.2,303.94 h-1.8M239.2,299.31 h-1.8M239.2,294.68 h-4.2M239.2,290.04 h-1.8M239.2,285.41 h-1.8M239.2,280.77 h-1.8M239.2,276.13 h-1.8M239.2,271.5 h-4.2" fill="none" stroke="#222" stroke-width="0.9"/>
<text x="234.6" y="366.9" font-size="7.2" text-anchor="end" fill="#222" stroke="none">0</text>
<text x="234.6" y="343.72" font-size="7.2" text-anchor="end" fill="#222" stroke="none">25</text>
<text x="234.6" y="320.55" font-size="7.2" text-anchor="end" fill="#222" stroke="none">50</text>
<text x="234.6" y="297.38" font-size="7.2" text-anchor="end" fill="#222" stroke="none">75</text>
<text x="234.6" y="274.2" font-size="7.2" text-anchor="end" fill="#222" stroke="none">100</text>
<path d="M242.12,364.2 v2.2M249.26,364.2 v2.2M256.4,364.2 v4M263.54,364.2 v2.2M270.68,364.2 v2.2M277.83,364.2 v2.2M284.97,364.2 v2.2M292.11,364.2 v4M299.25,364.2 v2.2M306.39,364.2 v2.2M313.54,364.2 v2.2M320.68,364.2 v2.2M327.82,364.2 v4M334.96,364.2 v2.2M342.1,364.2 v2.2M349.25,364.2 v2.2M356.39,364.2 v2.2M363.53,364.2 v4M370.67,364.2 v2.2M377.81,364.2 v2.2M384.96,364.2 v2.2M392.1,364.2 v2.2M399.24,364.2 v4M406.38,364.2 v2.2M413.52,364.2 v2.2M420.67,364.2 v2.2M427.81,364.2 v2.2M434.95,364.2 v4M442.09,364.2 v2.2M449.23,364.2 v2.2M456.38,364.2 v2.2M463.52,364.2 v2.2M470.66,364.2 v4M477.8,364.2 v2.2M484.94,364.2 v2.2M492.09,364.2 v2.2M499.23,364.2 v2.2M506.37,364.2 v4M513.51,364.2 v2.2M520.65,364.2 v2.2M527.8,364.2 v2.2M534.94,364.2 v2.2M542.08,364.2 v4M549.22,364.2 v2.2M556.36,364.2 v2.2M563.51,364.2 v2.2M570.65,364.2 v2.2M577.79,364.2 v4M584.93,364.2 v2.2M592.07,364.2 v2.2M599.22,364.2 v2.2M606.36,364.2 v2.2M613.5,364.2 v4" fill="none" stroke="#222" stroke-width="0.9"/>
<text x="257" y="376" font-size="7.6" text-anchor="middle" fill="#222" stroke="none">50.0</text>
<text x="292.71" y="376" font-size="7.6" text-anchor="middle" fill="#222" stroke="none">75.0</text>
<text x="328.42" y="376" font-size="7.6" text-anchor="middle" fill="#222" stroke="none">100.0</text>
<text x="364.13" y="376" font-size="7.6" text-anchor="middle" fill="#222" stroke="none">125.0</text>
<text x="399.84" y="376" font-size="7.6" text-anchor="middle" fill="#222" stroke="none">150.0</text>
<text x="435.55" y="376" font-size="7.6" text-anchor="middle" fill="#222" stroke="none">175.0</text>
<text x="471.26" y="376" font-size="7.6" text-anchor="middle" fill="#222" stroke="none">200.0</text>
<text x="506.97" y="376" font-size="7.6" text-anchor="middle" fill="#222" stroke="none">225.0</text>
<text x="542.68" y="376" font-size="7.6" text-anchor="middle" fill="#222" stroke="none">250.0</text>
<text x="578.39" y="376" font-size="7.6" text-anchor="middle" fill="#222" stroke="none">275.0</text>
<text x="614.1" y="376" font-size="7.6" text-anchor="middle" fill="#222" stroke="none">300.0</text>
<path d="M267,364.2 v-92.7M287,364.2 v-79.72M306.99,364.2 v-55.62M326.99,364.2 v-21.78" fill="none" stroke="#1c1c1c" stroke-width="1.2"/>
<path d="M261.29,364.2 v-1.11M262.71,364.2 v-1.39M264.14,364.2 v-13.44M265.57,364.2 v-12.05M268.43,364.2 v-4.17M281.28,364.2 v-1.85M282.71,364.2 v-2.32M284.14,364.2 v-10.2M285.57,364.2 v-12.05M288.42,364.2 v-4.17M301.28,364.2 v-1.39M302.71,364.2 v-3.24M304.14,364.2 v-8.81M305.57,364.2 v-7.88M308.42,364.2 v-3.52M321.28,364.2 v-1.11M322.71,364.2 v-3.24M324.13,364.2 v-7.88M325.56,364.2 v-6.49M328.42,364.2 v-1.85M342.7,364.2 v-1.85M344.13,364.2 v-3.89M345.56,364.2 v-4.45M346.99,364.2 v-12.05M348.42,364.2 v-1.11M364.13,364.2 v-2.04M365.56,364.2 v-2.41M366.99,364.2 v-6.49M368.42,364.2 v-0.74M384.13,364.2 v-0.93M385.56,364.2 v-1.3M386.98,364.2 v-3.71M405.55,364.2 v-0.93M406.98,364.2 v-2.78M425.55,364.2 v-0.74M426.98,364.2 v-2.32M445.55,364.2 v-0.56M446.98,364.2 v-2.04M465.55,364.2 v-0.46M466.97,364.2 v-1.67M486.97,364.2 v-1.21M506.97,364.2 v-0.74M528.4,364.2 v-2.97" fill="none" stroke="#444" stroke-width="1.45"/>
<text x="266.6" y="270.9" font-size="7.9" text-anchor="middle" fill="#222" stroke="none">57</text>
<text x="286.6" y="283.88" font-size="7.9" text-anchor="middle" fill="#222" stroke="none">71</text>
<text x="306.59" y="307.98" font-size="7.9" text-anchor="middle" fill="#222" stroke="none">85</text>
<text x="326.59" y="341.82" font-size="7.9" text-anchor="middle" fill="#222" stroke="none">99</text>
<text x="346.59" y="351.55" font-size="7.9" text-anchor="middle" fill="#222" stroke="none">113</text>
<text x="366.59" y="357.11" font-size="7.9" text-anchor="middle" fill="#222" stroke="none">127</text>
<text x="386.58" y="359.89" font-size="7.9" text-anchor="middle" fill="#222" stroke="none">141</text>
<text x="406.58" y="360.82" font-size="7.9" text-anchor="middle" fill="#222" stroke="none">155</text>
<text x="426.58" y="361.28" font-size="7.9" text-anchor="middle" fill="#222" stroke="none">169</text>
<text x="446.58" y="361.56" font-size="7.9" text-anchor="middle" fill="#222" stroke="none">183</text>
<text x="466.57" y="361.93" font-size="7.9" text-anchor="middle" fill="#222" stroke="none">197</text>
<text x="486.57" y="362.39" font-size="7.9" text-anchor="middle" fill="#222" stroke="none">211</text>
<text x="528" y="360.63" font-size="7.9" text-anchor="middle" fill="#222" stroke="none">240</text>
<text x="237.6" y="259.1" font-size="7.6" text-anchor="middle" fill="#222" stroke="none">%</text>
<text transform="translate(217.3,314.65) rotate(-90)" font-size="20" text-anchor="middle" textLength="75" lengthAdjust="spacingAndGlyphs" fill="#111">Intensity</text>
<text x="630.6" y="380.2" font-size="19.5" textLength="31.5" lengthAdjust="spacingAndGlyphs" fill="#111">m/z</text>
<text x="239.5" y="255.3" font-size="18.3" textLength="203" lengthAdjust="spacingAndGlyphs" fill="#111">C17H36, n-Heptadecane</text>
<path d="M335.3,283.4 L352.42,266.6 L369.54,283.4 L386.66,266.6 L403.78,283.4 L420.9,266.6 L438.02,283.4 L455.14,266.6 L472.26,283.4 L489.38,266.6 L506.5,283.4 L523.62,266.6 L540.74,283.4 L557.86,266.6 L574.98,283.4 L592.1,266.6 L609.22,283.4" fill="none" stroke="#222" stroke-width="1.15" stroke-linejoin="miter"/>
<path d="M239.2,411.6 H615.2 V515" fill="none" stroke="#333" stroke-width="1.15"/>
<path d="M239.2,411.1 V515 H615.7" fill="none" stroke="#111" stroke-width="1.45"/>
<path d="M239.2,515 h-4.2M239.2,510.39 h-1.8M239.2,505.78 h-1.8M239.2,501.17 h-1.8M239.2,496.56 h-1.8M239.2,491.95 h-4.2M239.2,487.34 h-1.8M239.2,482.73 h-1.8M239.2,478.12 h-1.8M239.2,473.51 h-1.8M239.2,468.9 h-4.2M239.2,464.29 h-1.8M239.2,459.68 h-1.8M239.2,455.07 h-1.8M239.2,450.46 h-1.8M239.2,445.85 h-4.2M239.2,441.24 h-1.8M239.2,436.63 h-1.8M239.2,432.02 h-1.8M239.2,427.41 h-1.8M239.2,422.8 h-4.2" fill="none" stroke="#222" stroke-width="0.9"/>
<text x="234.6" y="517.7" font-size="7.2" text-anchor="end" fill="#222" stroke="none">0</text>
<text x="234.6" y="494.65" font-size="7.2" text-anchor="end" fill="#222" stroke="none">25</text>
<text x="234.6" y="471.6" font-size="7.2" text-anchor="end" fill="#222" stroke="none">50</text>
<text x="234.6" y="448.55" font-size="7.2" text-anchor="end" fill="#222" stroke="none">75</text>
<text x="234.6" y="425.5" font-size="7.2" text-anchor="end" fill="#222" stroke="none">100</text>
<path d="M242.12,515 v2.2M249.26,515 v2.2M256.4,515 v4M263.54,515 v2.2M270.68,515 v2.2M277.83,515 v2.2M284.97,515 v2.2M292.11,515 v4M299.25,515 v2.2M306.39,515 v2.2M313.54,515 v2.2M320.68,515 v2.2M327.82,515 v4M334.96,515 v2.2M342.1,515 v2.2M349.25,515 v2.2M356.39,515 v2.2M363.53,515 v4M370.67,515 v2.2M377.81,515 v2.2M384.96,515 v2.2M392.1,515 v2.2M399.24,515 v4M406.38,515 v2.2M413.52,515 v2.2M420.67,515 v2.2M427.81,515 v2.2M434.95,515 v4M442.09,515 v2.2M449.23,515 v2.2M456.38,515 v2.2M463.52,515 v2.2M470.66,515 v4M477.8,515 v2.2M484.94,515 v2.2M492.09,515 v2.2M499.23,515 v2.2M506.37,515 v4M513.51,515 v2.2M520.65,515 v2.2M527.8,515 v2.2M534.94,515 v2.2M542.08,515 v4M549.22,515 v2.2M556.36,515 v2.2M563.51,515 v2.2M570.65,515 v2.2M577.79,515 v4M584.93,515 v2.2M592.07,515 v2.2M599.22,515 v2.2M606.36,515 v2.2M613.5,515 v4" fill="none" stroke="#222" stroke-width="0.9"/>
<text x="257" y="526.8" font-size="7.6" text-anchor="middle" fill="#222" stroke="none">50.0</text>
<text x="292.71" y="526.8" font-size="7.6" text-anchor="middle" fill="#222" stroke="none">75.0</text>
<text x="328.42" y="526.8" font-size="7.6" text-anchor="middle" fill="#222" stroke="none">100.0</text>
<text x="364.13" y="526.8" font-size="7.6" text-anchor="middle" fill="#222" stroke="none">125.0</text>
<text x="399.84" y="526.8" font-size="7.6" text-anchor="middle" fill="#222" stroke="none">150.0</text>
<text x="435.55" y="526.8" font-size="7.6" text-anchor="middle" fill="#222" stroke="none">175.0</text>
<text x="471.26" y="526.8" font-size="7.6" text-anchor="middle" fill="#222" stroke="none">200.0</text>
<text x="506.97" y="526.8" font-size="7.6" text-anchor="middle" fill="#222" stroke="none">225.0</text>
<text x="542.68" y="526.8" font-size="7.6" text-anchor="middle" fill="#222" stroke="none">250.0</text>
<text x="578.39" y="526.8" font-size="7.6" text-anchor="middle" fill="#222" stroke="none">275.0</text>
<text x="614.1" y="526.8" font-size="7.6" text-anchor="middle" fill="#222" stroke="none">300.0</text>
<path d="M267,515 v-87.59M287,515 v-92.2M306.99,515 v-35.96M326.99,515 v-20.28M346.99,515 v-21.67" fill="none" stroke="#1c1c1c" stroke-width="1.2"/>
<path d="M261.29,515 v-1.11M262.71,515 v-1.38M264.14,515 v-11.99M265.57,515 v-13.83M268.43,515 v-3.87M281.28,515 v-1.38M282.71,515 v-1.84M284.14,515 v-11.06M285.57,515 v-11.99M288.42,515 v-5.07M301.28,515 v-1.38M302.71,515 v-2.3M304.14,515 v-5.53M305.57,515 v-9.22M308.42,515 v-2.3M321.28,515 v-1.84M322.71,515 v-4.15M324.13,515 v-8.3M325.56,515 v-4.15M328.42,515 v-1.66M341.28,515 v-1.11M342.7,515 v-1.84M344.13,515 v-5.53M345.56,515 v-11.52M348.42,515 v-1.84M364.13,515 v-2.03M365.56,515 v-2.95M366.99,515 v-10.14M368.42,515 v-0.92M384.13,515 v-0.74M385.56,515 v-1.29M386.98,515 v-3.87M404.13,515 v-0.74M405.55,515 v-1.48M406.98,515 v-2.95M425.55,515 v-0.74M426.98,515 v-1.48M445.55,515 v-1.48M446.98,515 v-7.38M448.41,515 v-0.92M465.55,515 v-0.46M466.97,515 v-1.29M485.54,515 v-0.46M486.97,515 v-1.01M506.97,515 v-0.92M528.4,515 v-1.29" fill="none" stroke="#444" stroke-width="1.45"/>
<text x="266.6" y="426.81" font-size="7.9" text-anchor="middle" fill="#222" stroke="none">57</text>
<text x="286.6" y="422.2" font-size="7.9" text-anchor="middle" fill="#222" stroke="none">71</text>
<text x="306.59" y="478.44" font-size="7.9" text-anchor="middle" fill="#222" stroke="none">85</text>
<text x="326.59" y="494.12" font-size="7.9" text-anchor="middle" fill="#222" stroke="none">99</text>
<text x="346.59" y="492.73" font-size="7.9" text-anchor="middle" fill="#222" stroke="none">113</text>
<text x="366.59" y="504.26" font-size="7.9" text-anchor="middle" fill="#222" stroke="none">127</text>
<text x="386.58" y="510.53" font-size="7.9" text-anchor="middle" fill="#222" stroke="none">141</text>
<text x="406.58" y="511.45" font-size="7.9" text-anchor="middle" fill="#222" stroke="none">155</text>
<text x="426.58" y="512.92" font-size="7.9" text-anchor="middle" fill="#222" stroke="none">169</text>
<text x="446.58" y="507.02" font-size="7.9" text-anchor="middle" fill="#222" stroke="none">183</text>
<text x="466.57" y="513.11" font-size="7.9" text-anchor="middle" fill="#222" stroke="none">197</text>
<text x="486.57" y="513.39" font-size="7.9" text-anchor="middle" fill="#222" stroke="none">211</text>
<text x="506.57" y="513.48" font-size="7.9" text-anchor="middle" fill="#222" stroke="none">225</text>
<text x="528" y="513.11" font-size="7.9" text-anchor="middle" fill="#222" stroke="none">240</text>
<text x="237.6" y="410.4" font-size="7.6" text-anchor="middle" fill="#222" stroke="none">%</text>
<text transform="translate(217.3,465.7) rotate(-90)" font-size="20" text-anchor="middle" textLength="75" lengthAdjust="spacingAndGlyphs" fill="#111">Intensity</text>
<text x="630.6" y="531" font-size="19.5" textLength="31.5" lengthAdjust="spacingAndGlyphs" fill="#111">m/z</text>
<text x="236.8" y="413.2" font-size="26" font-weight="bold" fill="#111">*</text>
<text x="249.4" y="406.6" font-size="18.3" textLength="301" lengthAdjust="spacingAndGlyphs" fill="#111">C17H36, 2,6,10-trimethyltetradecane</text>
<path d="M388.2,460.4 L405.14,443.2 L422.08,460.4 L439.02,443.2 L455.96,460.4 L472.9,443.2 L489.84,460.4 L506.78,443.2 L523.72,460.4 L540.66,443.2 L557.6,460.4 L574.54,443.2 L591.48,460.4 L608.42,443.2 M405.14,443.2 V418.7 M472.9,443.2 V418.7 M540.66,443.2 V418.7" fill="none" stroke="#222" stroke-width="1.15" stroke-linejoin="miter"/>
<path d="M683.3,759.6 V597.3" fill="none" stroke="#484848" stroke-width="1.05"/>
<path d="M50.6,597.3 V759.6 H683.8" fill="none" stroke="#2a2a2a" stroke-width="1.2"/>
<line x1="50.6" y1="597.3" x2="70.3" y2="597.3" stroke="#484848" stroke-width="1.05"/>
<line x1="247" y1="597.3" x2="320.3" y2="597.3" stroke="#484848" stroke-width="1.05"/>
<line x1="463" y1="597.3" x2="683.3" y2="597.3" stroke="#484848" stroke-width="1.05"/>
<path d="M50.6,752.04 h-2M50.6,745.3 h-3.9M50.6,738.56 h-2M50.6,731.82 h-2M50.6,725.08 h-2M50.6,718.34 h-2M50.6,711.6 h-3.9M50.6,704.86 h-2M50.6,698.12 h-2M50.6,691.38 h-2M50.6,684.64 h-2M50.6,677.9 h-3.9M50.6,671.16 h-2M50.6,664.42 h-2M50.6,657.68 h-2M50.6,650.94 h-2M50.6,644.2 h-3.9M50.6,637.46 h-2M50.6,630.72 h-2M50.6,623.98 h-2M50.6,617.24 h-2M50.6,610.5 h-3.9M50.6,603.76 h-2" fill="none" stroke="#333" stroke-width="1"/>
<text x="45.2" y="749.9" font-size="12.9" text-anchor="end" fill="#111">0</text>
<text x="45.2" y="716.2" font-size="12.9" text-anchor="end" fill="#111">25</text>
<text x="45.2" y="682.5" font-size="12.9" text-anchor="end" fill="#111">50</text>
<text x="45.2" y="648.8" font-size="12.9" text-anchor="end" fill="#111">75</text>
<text x="45.2" y="615.1" font-size="12.9" text-anchor="end" fill="#111">100</text>
<path d="M53.52,759.6 v1.9M59.68,759.6 v1.9M65.84,759.6 v1.9M72,759.6 v3.9M78.16,759.6 v1.9M84.32,759.6 v1.9M90.48,759.6 v1.9M96.64,759.6 v1.9M102.8,759.6 v3.9M108.96,759.6 v1.9M115.12,759.6 v1.9M121.28,759.6 v1.9M127.44,759.6 v1.9M133.6,759.6 v3.9M139.76,759.6 v1.9M145.92,759.6 v1.9M152.08,759.6 v1.9M158.24,759.6 v1.9M164.4,759.6 v3.9M170.56,759.6 v1.9M176.72,759.6 v1.9M182.88,759.6 v1.9M189.04,759.6 v1.9M195.2,759.6 v3.9M201.36,759.6 v1.9M207.52,759.6 v1.9M213.68,759.6 v1.9M219.84,759.6 v1.9M226,759.6 v3.9M232.16,759.6 v1.9M238.32,759.6 v1.9M244.48,759.6 v1.9M250.64,759.6 v1.9M256.8,759.6 v3.9M262.96,759.6 v1.9M269.12,759.6 v1.9M275.28,759.6 v1.9M281.44,759.6 v1.9M287.6,759.6 v3.9M293.76,759.6 v1.9M299.92,759.6 v1.9M306.08,759.6 v1.9M312.24,759.6 v1.9M318.4,759.6 v3.9M324.56,759.6 v1.9M330.72,759.6 v1.9M336.88,759.6 v1.9M343.04,759.6 v1.9M349.2,759.6 v3.9M355.36,759.6 v1.9M361.52,759.6 v1.9M367.68,759.6 v1.9M373.84,759.6 v1.9M380,759.6 v3.9M386.16,759.6 v1.9M392.32,759.6 v1.9M398.48,759.6 v1.9M404.64,759.6 v1.9M410.8,759.6 v3.9M416.96,759.6 v1.9M423.12,759.6 v1.9M429.28,759.6 v1.9M435.44,759.6 v1.9M441.6,759.6 v3.9M447.76,759.6 v1.9M453.92,759.6 v1.9M460.08,759.6 v1.9M466.24,759.6 v1.9M472.4,759.6 v3.9M478.56,759.6 v1.9M484.72,759.6 v1.9M490.88,759.6 v1.9M497.04,759.6 v1.9M503.2,759.6 v3.9M509.36,759.6 v1.9M515.52,759.6 v1.9M521.68,759.6 v1.9M527.84,759.6 v1.9M534,759.6 v3.9M540.16,759.6 v1.9M546.32,759.6 v1.9M552.48,759.6 v1.9M558.64,759.6 v1.9M564.8,759.6 v3.9M570.96,759.6 v1.9M577.12,759.6 v1.9M583.28,759.6 v1.9M589.44,759.6 v1.9M595.6,759.6 v3.9M601.76,759.6 v1.9M607.92,759.6 v1.9M614.08,759.6 v1.9M620.24,759.6 v1.9M626.4,759.6 v3.9M632.56,759.6 v1.9M638.72,759.6 v1.9M644.88,759.6 v1.9M651.04,759.6 v1.9M657.2,759.6 v3.9M663.36,759.6 v1.9M669.52,759.6 v1.9M675.68,759.6 v1.9M681.84,759.6 v1.9" fill="none" stroke="#333" stroke-width="1"/>
<text x="102.8" y="773.5" font-size="12.9" text-anchor="middle" fill="#111">10</text>
<text x="164.4" y="773.5" font-size="12.9" text-anchor="middle" fill="#111">15</text>
<text x="226" y="773.5" font-size="12.9" text-anchor="middle" fill="#111">20</text>
<text x="287.6" y="773.5" font-size="12.9" text-anchor="middle" fill="#111">25</text>
<text x="349.2" y="773.5" font-size="12.9" text-anchor="middle" fill="#111">30</text>
<text x="410.8" y="773.5" font-size="12.9" text-anchor="middle" fill="#111">35</text>
<text x="472.4" y="773.5" font-size="12.9" text-anchor="middle" fill="#111">40</text>
<text x="534" y="773.5" font-size="12.9" text-anchor="middle" fill="#111">45</text>
<text x="595.6" y="773.5" font-size="12.9" text-anchor="middle" fill="#111">50</text>
<text x="657.2" y="773.5" font-size="12.9" text-anchor="middle" fill="#111">55</text>
<text x="367" y="794.9" font-size="18.2" text-anchor="middle" textLength="166" lengthAdjust="spacingAndGlyphs" fill="#111">Retention time (min)</text>
<text transform="translate(14.4,677.9) rotate(-90)" font-size="18.2" text-anchor="middle" textLength="93.5" lengthAdjust="spacingAndGlyphs" fill="#111">Abundance</text>
<text x="4.6" y="600.6" font-size="19.3" font-weight="bold" textLength="12.2" lengthAdjust="spacingAndGlyphs" fill="#111">c</text>
<text x="77.8" y="605.6" font-size="23.5" textLength="164.8" lengthAdjust="spacingAndGlyphs" fill="#111">Crude oil + ZS1</text>
<path d="M51.06,747.7 51.43,747.69 51.8,747.71 52.16,747.77 52.53,747.9 52.9,748.05 53.27,748.15 53.64,748.12 54.01,748.09 54.38,748.38 54.75,749.01 55.12,748.86 55.49,748.77 55.86,748.82 56.23,748.85 56.6,748.7 56.97,748.5 57.34,748.31 57.71,748.21 58.08,748.1 58.45,748.06 58.82,748.35 59.19,748.65 59.56,748.79 59.93,748.63 60.3,748.47 60.67,748.46 61.04,748.58 61.4,748.36 61.77,747.68 62.14,748.05 62.51,748.29 62.88,748.43 63.25,748.56 63.62,748.69 63.99,748.8 64.36,748.48 64.73,747.52 65.1,748.54 65.47,749.17 65.84,749.28 66.21,749.28 66.58,748.19 66.95,745.56 67.32,748.19 67.69,749.34 68.06,749.25 68.43,749.27 68.8,749.34 69.17,749.45 69.54,749.56 69.91,749.6 70.28,749.49 70.64,749.49 71.01,749.54 71.38,749.62 71.75,749.68 72.12,749.66 72.49,749.52 72.86,749.5 73.23,749.67 73.6,748.81 73.97,746.71 74.34,748.54 74.71,749.39 75.08,749.21 75.45,749.4 75.82,749.66 76.19,749.91 76.56,749.9 76.93,749.88 77.3,749.88 77.67,749.97 78.04,750.05 78.41,750.07 78.78,749.95 79.15,749.82 79.52,749.77 79.88,749.81 80.25,749.84 80.62,749.95 80.99,750.02 81.36,749.99 81.73,750.22 82.1,750.36 82.47,750.42 82.84,750.34 83.21,750.26 83.58,750.19 83.95,750.15 84.32,750.12 84.69,750.16 85.06,750.38 85.43,750.59 85.8,750.63 86.17,750.51 86.54,750.38 86.91,750.28 87.28,750.19 87.65,750.11 88.02,750.28 88.39,750.5 88.76,750.72 89.12,750.82 89.49,750.93 89.86,751.02 90.23,751.02 90.6,751.02 90.97,750.94 91.34,750.74 91.71,750.53 92.08,750.44 92.45,750.46 92.82,750.47 93.19,750.36 93.56,750.03 93.93,749.71 94.3,749.9 94.67,750.16 95.04,750.27 95.41,750.54 95.78,750.8 96.15,751.02 96.52,751.05 96.89,751.07 97.26,751.08 97.63,751.05 98,751.05 98.36,751.07 98.73,751.09 99.1,751.1 99.47,750.96 99.84,750.74 100.21,750.52 100.58,750.43 100.95,750.37 101.32,750.31 101.69,750.29 102.06,750.28 102.43,750.31 102.8,750.61 103.17,751.06 103.54,751.38 103.91,750.94 104.28,750.49 104.65,750.45 105.02,750.69 105.39,750.93 105.76,750.98 106.13,750.94 106.5,750.89 106.87,750.78 107.24,750.65 107.6,750.53 107.97,750.81 108.34,751.09 108.71,751.32 109.08,751.32 109.45,751.32 109.82,751.22 110.19,750.92 110.56,750.69 110.93,750.9 111.3,751.32 111.67,751.4 112.04,751.23 112.41,751.09 112.78,751.03 113.15,750.88 113.52,750.58 113.89,750.35 114.26,750.43 114.63,750.59 115,750.7 115.37,751.02 115.74,751.31 116.11,751.46 116.48,751.32 116.84,751.19 117.21,751.1 117.58,751.06 117.95,750.97 118.32,750.8 118.69,750.91 119.06,750.96 119.43,751.06 119.8,751.18 120.17,751.31 120.54,751.15 120.91,750.99 121.28,750.84 121.65,750.68 122.02,750.53 122.39,750.51 122.76,750.76 123.13,751 123.5,751.09 123.87,751.03 124.24,750.97 124.61,751.07 124.98,751.26 125.35,751.44 125.72,751.42 126.08,751.36 126.45,751.3 126.82,751.13 127.19,750.97 127.56,750.87 127.93,751.11 128.3,751.35 128.67,751.4 129.04,751 129.41,750.4 129.78,750 130.15,750.19 130.52,750.46 130.89,750.8 131.26,751.27 131.63,751.89 132,751.83 132.37,751.32 132.74,750.71 133.11,750.82 133.48,751.03 133.85,751.21 134.22,751.08 134.59,751.02 134.96,751 135.32,750.93 135.69,750.83 136.06,750.89 136.43,751.08 136.8,751.27 137.17,751.23 137.54,751.07 137.91,750.91 138.28,750.89 138.65,750.9 139.02,750.91 139.39,750.84 139.76,750.78 140.13,750.76 140.5,750.99 140.87,751.22 141.24,751.31 141.61,751.1 141.98,750.89 142.35,750.73 142.72,750.64 143.09,750.55 143.46,750.47 143.83,750.25 144.2,750.67 144.56,750.9 144.93,750.96 145.3,751.01 145.67,751.19 146.04,751.36 146.41,751.48 146.78,751.31 147.15,751.14 147.52,751 147.89,750.93 148.26,750.89 148.63,750.91 149,750.87 149.37,750.76 149.74,750.72 150.11,750.73 150.48,750.76 150.85,750.92 151.22,751.27 151.59,751.52 151.96,751.5 152.33,751.35 152.7,751.3 153.07,751.06 153.44,750.84 153.8,750.65 154.17,750.48 154.54,750.35 154.91,750.55 155.28,750.9 155.65,751.15 156.02,751.02 156.39,750.75 156.76,750.91 157.13,752.01 157.5,751.15 157.87,750.67 158.24,750.82 158.61,751.02 158.98,751.14 159.35,750.78 159.72,750.43 160.09,750.28 160.46,750.52 160.83,750.62 161.2,750.57 161.57,750.62 161.94,750.75 162.31,750.72 162.68,750.56 163.04,750.39 163.41,750.4 163.78,750.44 164.15,750.48 164.52,750.49 164.89,750.52 165.26,750.62 165.63,750.87 166,751.05 166.37,750.85 166.74,750.63 167.11,750.57 167.48,750.61 167.85,750.67 168.22,750.76 168.59,750.94 168.96,751.08 169.33,751.06 169.7,750.98 170.07,750.97 170.44,751 170.81,750.71 171.18,750.43 171.55,750.19 171.92,750.17 172.28,750.14 172.65,750.07 173.02,749.92 173.39,749.88 173.76,750.16 174.13,750.2 174.5,750.15 174.87,750.24 175.24,750.41 175.61,750.57 175.98,750.63 176.35,750.66 176.72,750.69 177.09,750.58 177.46,750.49 177.83,750.44 178.2,750.29 178.57,750.1 178.94,750.08 179.31,750.43 179.68,750.79 180.05,750.86 180.42,750.66 180.79,750.46 181.16,750.46 181.52,750.57 181.89,750.67 182.26,750.5 182.63,750.27 183,750.04 183.37,750.21 183.74,750.38 184.11,750.53 184.48,750.53 184.85,750.53 185.22,750.52 185.59,750.48 185.96,750.44 186.33,750.39 186.7,750.32 187.07,750.25 187.44,750.16 187.81,750.05 188.18,749.94 188.55,750.07 188.92,750.24 189.29,750.38 189.66,749.91 190.03,750.1 190.4,752.08 190.76,751.15 191.13,750.58 191.5,750.64 191.87,750.54 192.24,750.45 192.61,750.44 192.98,750.5 193.35,750.56 193.72,750.57 194.09,750.59 194.46,750.8 194.83,750.78 195.2,750.29 195.57,749.81 195.94,750.02 196.31,750.28 196.68,750.11 197.05,750.06 197.42,750.2 197.79,750.33 198.16,750.31 198.53,750.3 198.9,750.23 199.27,750.12 199.64,750.01 200,749.82 200.37,749.31 200.74,748.76 201.11,749.04 201.48,749.37 201.85,749.42 202.22,749.47 202.59,749.56 202.96,749.76 203.33,750.01 203.7,749.85 204.07,749.7 204.44,749.76 204.81,749.22 205.18,747.79 205.55,749.35 205.92,749.87 206.29,749.81 206.66,749.87 207.03,749.89 207.4,749.73 207.77,749.61 208.14,749.52 208.51,749.51 208.88,749.48 209.24,749.48 209.61,749.62 209.98,749.77 210.35,749.85 210.72,749.82 211.09,749.79 211.46,749.65 211.83,749.41 212.2,749.18 212.57,749.3 212.94,749.61 213.31,749.93 213.68,749.69 214.05,749.35 214.42,749.01 214.79,748.96 215.16,748.92 215.53,748.87 215.9,748.84 216.27,748.8 216.64,748.86 217.01,749.09 217.38,749.33 217.75,749.41 218.12,749.33 218.48,749.25 218.85,749.21 219.22,749.19 219.59,749.17 219.96,749.14 220.33,749.11 220.7,749.09 221.07,748.93 221.44,748.78 221.81,748.68 222.18,748.8 222.55,748.92 222.92,749.05 223.29,749.25 223.66,749.6 224.03,749.77 224.4,749.35 224.77,748.91 225.14,748.88 225.51,749.04 225.88,749.2 226.25,749.19 226.62,749.14 226.99,749.09 227.36,749.03 227.72,748.98 228.09,748.98 228.46,749.29 228.83,749.6 229.2,749.69 229.57,749.36 229.94,749.03 230.31,748.88 230.68,748.93 231.05,748.97 231.42,749.03 231.79,749.1 232.16,749.17 232.53,749.16 232.9,749.14 233.27,749.12 233.64,748.98 234.01,748.56 234.38,748.37 234.75,747.38 235.12,748.63 235.49,749.33 235.86,749.26 236.23,749.13 236.6,749.16 236.96,749.35 237.33,749.48 237.7,749.19 238.07,748.83 238.44,748.75 238.81,748.87 239.18,748.9 239.55,748.85 239.92,748.93 240.29,749 240.66,749.06 241.03,748.97 241.4,748.78 241.77,748.61 242.14,748.7 242.51,748.92 242.88,749.04 243.25,748.86 243.62,748.59 243.99,748.67 244.36,748.96 244.73,749.27 245.1,749.08 245.47,748.79 245.84,748.49 246.2,748.55 246.57,748.61 246.94,748.71 247.31,749 247.68,749.54 248.05,750.06 248.42,749.83 248.79,749.32 249.16,749.04 249.53,749.06 249.9,749.15 250.27,749.14 250.64,749.12 251.01,749.07 251.38,748.12 251.75,746.22 252.12,747.71 252.49,748.37 252.86,748.21 253.23,748.11 253.6,748.36 253.97,748.61 254.34,748.69 254.71,748.45 255.08,748.2 255.44,748.1 255.81,748.17 256.18,748.23 256.55,748.37 256.92,748.52 257.29,748.69 257.66,748.51 258.03,748.26 258.4,747.97 258.77,748.07 259.14,748.17 259.51,748.22 259.88,748.07 260.25,747.92 260.62,747.84 260.99,747.92 261.36,747.99 261.73,747.97 262.1,747.57 262.47,746.65 262.84,747.27 263.21,747.6 263.58,748.05 263.95,748.18 264.32,748.02 264.68,747.82 265.05,747.75 265.42,747.69 265.79,747.63 266.16,747.65 266.53,747.67 266.9,747.74 267.27,747.96 267.64,748.27 268.01,748.39 268.38,748.15 268.75,747.87 269.12,747.83 269.49,747.92 269.86,748.02 270.23,748.17 270.6,748.32 270.97,748.47 271.34,748.48 271.71,748.5 272.08,748.51 272.45,748.49 272.82,748.46 273.19,748.43 273.56,748.36 273.92,748.3 274.29,748.22 274.66,748.05 275.03,747.92 275.4,747.94 275.77,747.96 276.14,747.88 276.51,747.78 276.88,747.69 277.25,747.6 277.62,747.66 277.99,747.72 278.36,747.78 278.73,747.82 279.1,747.86 279.47,747.86 279.84,747.76 280.21,747.65 280.58,747.67 280.95,747.81 281.32,747.96 281.69,747.96 282.06,747.88 282.43,747.81 282.8,747.69 283.16,747.56 283.53,747.44 283.9,747.62 284.27,747.82 284.64,747.92 285.01,747.97 285.38,748.06 285.75,748.02 286.12,747.71 286.49,747.4 286.86,747.27 287.23,747.32 287.6,747.36 287.97,747.44 288.34,747.02 288.71,745.84 289.08,747.06 289.45,747.76 289.82,747.84 290.19,747.79 290.56,747.73 290.93,747.66 291.3,747.62 291.67,747.59 292.04,747.62 292.4,747.77 292.77,747.92 293.14,748.04 293.51,748.13 293.88,748.21 294.25,748.17 294.62,748.08 294.99,747.98 295.36,747.76 295.73,747.58 296.1,747.39 296.47,747.59 296.84,747.78 297.21,747.96 297.58,747.81 297.95,747.66 298.32,747.6 298.69,747.7 299.06,747.8 299.43,747.84 299.8,747.82 300.17,747.77 300.54,747.66 300.91,746.59 301.28,744.18 301.64,746.24 302.01,747.4 302.38,747.45 302.75,747.57 303.12,747.67 303.49,747.76 303.86,747.8 304.23,747.85 304.6,747.87 304.97,747.83 305.34,747.78 305.71,747.74 306.08,747.71 306.45,747.67 306.82,747.56 307.19,747.42 307.56,747.27 307.93,747.4 308.3,747.57 308.67,747.75 309.04,747.76 309.41,747.77 309.78,747.75 310.15,747.57 310.52,747.38 310.88,747.26 311.25,747.28 311.62,747.29 311.99,747.24 312.36,747.1 312.73,746.89 313.1,746.63 313.47,745.95 313.84,745.02 314.21,746.47 314.58,746.77 314.95,744.11 315.32,738.02 315.69,743.56 316.06,747.1 316.43,747.93 316.8,747.99 317.17,747.72 317.54,747.08 317.91,746.47 318.28,746.56 318.65,747.04 319.02,747.38 319.39,747.51 319.76,747.57 320.12,747.63 320.49,747.51 320.86,747.34 321.23,747.18 321.6,747.31 321.97,747.44 322.34,747.51 322.71,747.31 323.08,747.11 323.45,747.02 323.82,747.13 324.19,747.25 324.56,747.35 324.93,747.44 325.3,747.53 325.67,747.58 326.04,747.61 326.41,747.64 326.78,747.4 327.15,747.1 327.52,746.81 327.89,747 328.26,747.19 328.63,747.31 329,747.09 329.36,746.86 329.73,746.76 330.1,746.89 330.47,747.03 330.84,746.99 331.21,746.79 331.58,746.58 331.95,746.69 332.32,746.96 332.69,747.23 333.06,747.29 333.43,747.3 333.8,747.32 334.17,747.31 334.54,747.3 334.91,747.25 335.28,747.01 335.65,746.77 336.02,746.64 336.39,746.7 336.76,746.69 337.13,746.02 337.5,744.42 337.87,746.07 338.24,747.09 338.6,747.3 338.97,747.43 339.34,747.21 339.71,746.66 340.08,745.75 340.45,746.21 340.82,746.43 341.19,746.39 341.56,746.56 341.93,746.72 342.3,746.91 342.67,747.16 343.04,747.41 343.41,747.53 343.78,747.52 344.15,747.51 344.52,747.57 344.89,747.77 345.26,747.92 345.63,747.74 346,747.47 346.37,747.34 346.74,747.38 347.11,747.43 347.48,747.48 347.84,747.47 348.21,747.46 348.58,747.37 348.95,747.12 349.32,746.85 349.69,746.6 350.06,746.31 350.43,746.07 350.8,746.35 351.17,746.82 351.54,747.21 351.91,746.99 352.28,746.66 352.65,746.31 353.02,746.32 353.39,746.26 353.76,746.64 354.13,746.72 354.5,746.61 354.87,746.5 355.24,746.45 355.61,746.39 355.98,746.36 356.35,746.34 356.72,746.33 357.08,746.58 357.45,746.96 357.82,747.34 358.19,747.3 358.56,747.18 358.93,747.06 359.3,746.91 359.67,746.72 360.04,746.12 360.41,744.91 360.78,745.69 361.15,746.27 361.52,746.7 361.89,747.07 362.26,747.21 362.63,747.11 363,747.02 363.37,746.82 363.74,746.57 364.11,746.33 364.48,746.54 364.85,746.85 365.22,747.15 365.59,747.02 365.96,746.9 366.32,746.79 366.69,746.81 367.06,746.82 367.43,746.78 367.8,746.62 368.17,746.46 368.54,746.32 368.91,746.21 369.28,746.09 369.65,746.26 370.02,746.57 370.39,746.89 370.76,746.73 371.13,746.47 371.5,746.23 371.87,746.24 372.24,746.24 372.61,746.21 372.98,746.14 373.35,746.08 373.72,746.08 374.09,746.19 374.46,746.18 374.83,745.89 375.2,745.95 375.56,745.93 375.93,746.03 376.3,746.26 376.67,746.49 377.04,746.5 377.41,746.47 377.78,746.44 378.15,746.52 378.52,746.59 378.89,746.61 379.26,746.46 379.63,746.32 380,745.94 380.37,745.78 380.74,745.59 381.11,744.89 381.48,745.79 381.85,746.15 382.22,746.08 382.59,746.27 382.96,746.51 383.33,746.38 383.7,746.15 384.07,745.9 384.44,745.94 384.8,745.98 385.17,746.01 385.54,745.95 385.91,745.9 386.28,745.91 386.65,746.04 387.02,746.17 387.39,746.21 387.76,746.16 388.13,746.11 388.5,746.19 388.87,746.32 389.24,746.46 389.61,746.28 389.98,746.03 390.35,745.79 390.72,746.08 391.09,746.36 391.46,746.57 391.83,746.38 392.2,746.18 392.57,746.01 392.94,745.88 393.31,745.75 393.68,745.7 394.04,745.73 394.41,745.77 394.78,745.94 395.15,746.19 395.52,746.43 395.89,746.42 396.26,746.36 396.63,746.3 397,746.04 397.37,745.77 397.74,745.57 398.11,745.66 398.48,745.74 398.85,745.77 399.22,745.66 399.59,745.56 399.96,745.51 400.33,745.51 400.7,745.5 401.07,745.61 401.44,745.75 401.81,745.59 402.18,744.58 402.55,744.81 402.92,745.16 403.28,745.44 403.65,745.53 404.02,745.57 404.39,745.61 404.76,745.69 405.13,745.85 405.5,745.93 405.87,745.95 406.24,746.01 406.61,746.12 406.98,746.23 407.35,746.16 407.72,746 408.09,745.84 408.46,745.6 408.83,745.34 409.2,745.08 409.57,745.42 409.94,745.76 410.31,746.01 410.68,745.79 411.05,745.56 411.42,745.47 411.79,745.64 412.16,745.82 412.52,745.89 412.89,745.88 413.26,745.87 413.63,745.75 414,745.66 414.37,745.23 414.74,745.22 415.11,745.36 415.48,745.51 415.85,745.56 416.22,745.62 416.59,745.65 416.96,745.57 417.33,745.5 417.7,745.37 418.07,745.13 418.44,744.89 418.81,744.76 419.18,744.76 419.55,744.75 419.92,744.81 420.29,744.71 420.66,744.64 421.03,744.75 421.4,744.44 421.76,743.32 422.13,743.97 422.5,744.21 422.87,744.04 423.24,744.35 423.61,744.64 423.98,744.78 424.35,744.6 424.72,744.42 425.09,744.35 425.46,744.47 425.83,744.6 426.2,744.4 426.57,744.12 426.94,743.92 427.31,743.92 427.68,743.97 428.05,744.01 428.42,743.9 428.79,743.79 429.16,743.72 429.53,743.8 429.9,743.87 430.27,743.97 430.64,744.09 431,744.21 431.37,744.25 431.74,744.23 432.11,744.21 432.48,744.11 432.85,743.74 433.22,743.66 433.59,743.69 433.96,743.57 434.33,743.26 434.7,743.54 435.07,743.83 435.44,744.06 435.81,744.08 436.18,744.09 436.55,744.08 436.92,743.98 437.29,743.26 437.66,743.06 438.03,743.36 438.4,743.67 438.77,743.56 439.14,743.24 439.51,742.93 439.88,743.11 440.24,743.13 440.61,742.6 440.98,741.81 441.35,742.8 441.72,743.23 442.09,743.39 442.46,743.5 442.83,743.47 443.2,743.2 443.57,742.93 443.94,742.84 444.31,742.92 444.68,743 445.05,743.02 445.42,743 445.79,742.99 446.16,742.94 446.53,742.9 446.9,742.95 447.27,743 447.64,742.85 448.01,742.58 448.38,742.34 448.75,742.95 449.12,743.26 449.48,743.15 449.85,743.03 450.22,742.99 450.59,743.04 450.96,743.08 451.33,743.17 451.7,743.29 452.07,743.41 452.44,743.14 452.81,742.8 453.18,742.45 453.55,742.52 453.92,742.58 454.29,742.62 454.66,742.48 455.03,742.34 455.4,742.32 455.77,742.54 456.14,742.73 456.51,742.53 456.88,742.05 457.25,741.88 457.62,741.6 457.99,741.96 458.36,741.81 458.72,740.82 459.09,741.43 459.46,741.64 459.83,741.82 460.2,742.15 460.57,742.41 460.94,742.25 461.31,742.05 461.68,741.62 462.05,741.19 462.42,741.36 462.79,741.66 463.16,741.86 463.53,741.99 463.9,741.86 464.27,741.61 464.64,741.36 465.01,741.22 465.38,741.1 465.75,740.98 466.12,741.07 466.49,741.17 466.86,741.22 467.23,741.09 467.6,740.96 467.96,740.87 468.33,740.86 468.7,740.84 469.07,740.82 469.44,740.66 469.81,740.57 470.18,740.77 470.55,740.99 470.92,741.04 471.29,740.81 471.66,740.53 472.03,740.25 472.4,740.49 472.77,740.58 473.14,740.62 473.51,740.73 473.88,740.86 474.25,740.93 474.62,741.13 474.99,741.44 475.36,741.53 475.73,740.7 476.1,739.01 476.47,740.07 476.84,740.71 477.2,740.81 477.57,740.55 477.94,740.19 478.31,739.8 478.68,739.83 479.05,739.85 479.42,739.85 479.79,739.72 480.16,739.58 480.53,739.45 480.9,739.33 481.27,739.21 481.64,739.19 482.01,739.27 482.38,739.35 482.75,739.24 483.12,739.02 483.49,738.8 483.86,738.84 484.23,738.93 484.6,739.02 484.97,738.98 485.34,738.95 485.71,738.87 486.08,738.57 486.44,738.26 486.81,738.04 487.18,737.98 487.55,737.92 487.92,737.84 488.29,737.74 488.66,737.65 489.03,737.7 489.4,737.83 489.77,737.96 490.14,737.82 490.51,737.64 490.88,737.45 491.25,737.57 491.62,737.88 491.99,738.2 492.36,737.64 492.73,737.07 493.1,736.57 493.47,735.95 493.84,736.48 494.21,736.92 494.58,737.2 494.95,737.45 495.32,737.33 495.68,737.04 496.05,736.75 496.42,736.96 496.79,737.27 497.16,737.59 497.53,737.63 497.9,737.66 498.27,737.63 498.64,737.34 499.01,737.04 499.38,736.89 499.75,737.04 500.12,737.18 500.49,737.18 500.86,737.05 501.23,736.95 501.6,736.96 501.97,736.68 502.34,736.1 502.71,736.38 503.08,736.81 503.45,737.04 503.82,736.67 504.19,736.32 504.56,736.11 504.92,736.29 505.29,736.35 505.66,736.29 506.03,736.1 506.4,735.93 506.77,735.83 507.14,735.77 507.51,735.71 507.88,735.52 508.25,735.24 508.62,734.94 508.99,734.51 509.36,733.71 509.73,734.23 510.1,734.7 510.47,734.85 510.84,734.94 511.21,734.92 511.58,734.91 511.95,734.84 512.32,734.66 512.69,734.49 513.06,734.33 513.43,734.2 513.8,734.06 514.16,734.06 514.53,734.12 514.9,734.19 515.27,734.11 515.64,734 516.01,733.9 516.38,733.57 516.75,733.25 517.12,732.97 517.49,732.94 517.86,732.92 518.23,732.85 518.6,732.68 518.97,732.52 519.34,732.43 519.71,732.4 520.08,732.37 520.45,732.38 520.82,732.4 521.19,732.37 521.56,732.29 521.93,732.27 522.3,732.68 522.67,733.03 523.04,733.2 523.4,733.26 523.77,732.98 524.14,732.39 524.51,732.71 524.88,732.45 525.25,731.42 525.62,732.2 525.99,732.65 526.36,732.65 526.73,732.62 527.1,732.59 527.47,732.55 527.84,732.58 528.21,732.62 528.58,732.66 528.95,732.41 529.32,732.15 529.69,731.98 530.06,732.18 530.43,732.37 530.8,732.47 531.17,732.34 531.54,732.22 531.91,732.05 532.28,731.82 532.64,731.59 533.01,731.5 533.38,731.49 533.75,731.47 534.12,731.61 534.49,731.78 534.86,731.95 535.23,731.93 535.6,731.9 535.97,731.84 536.34,731.55 536.71,731.26 537.08,731.17 537.45,731.46 537.82,731.76 538.19,731.86 538.56,731.77 538.93,731.67 539.3,731.5 539.67,731.29 540.04,731.08 540.41,731.01 540.78,730.93 541.15,730.55 541.52,729.89 541.88,730.72 542.25,731.25 542.62,731.32 542.99,731.36 543.36,731.35 543.73,731.27 544.1,731.18 544.47,731.01 544.84,730.76 545.21,730.51 545.58,730.51 545.95,730.63 546.32,730.76 546.69,730.6 547.06,730.38 547.43,730.16 547.8,730.23 548.17,730.31 548.54,730.36 548.91,730.27 549.28,730.18 549.65,730.25 550.02,730.65 550.39,731.04 550.76,731.2 551.12,731.13 551.49,731.05 551.86,731.07 552.23,731.13 552.6,731.19 552.97,731.04 553.34,730.84 553.71,730.65 554.08,730.67 554.45,730.71 554.82,730.83 555.19,731.23 555.56,731.57 555.93,731.37 556.3,730.87 556.67,730.46 557.04,730.25 557.41,730.5 557.78,730.78 558.15,730.79 558.52,730.68 558.89,730.56 559.26,730.53 559.63,730.24 560,729.47 560.36,729.91 560.73,730.03 561.1,729.87 561.47,730.02 561.84,730.17 562.21,730.29 562.58,730.34 562.95,730.39 563.32,730.45 563.69,730.53 564.06,730.61 564.43,730.52 564.8,730.34 565.17,730.16 565.54,730.05 565.91,729.95 566.28,729.85 566.65,729.82 567.02,729.79 567.39,729.75 567.76,729.64 568.13,729.53 568.5,729.47 568.87,729.51 569.24,729.55 569.6,729.69 569.97,729.92 570.34,730.16 570.71,730.27 571.08,730.32 571.45,730.37 571.82,730.15 572.19,729.89 572.56,729.62 572.93,729.6 573.3,729.59 573.67,729.6 574.04,729.72 574.41,729.84 574.78,729.87 575.15,729.73 575.52,729.59 575.89,729.58 576.26,729.7 576.63,729.82 577,729.93 577.37,730.05 577.74,730.16 578.11,730.14 578.48,729.84 578.84,729.55 579.21,729.88 579.58,730.3 579.95,730.42 580.32,730.17 580.69,729.9 581.06,729.68 581.43,729.57 581.8,729.46 582.17,729.4 582.54,729.39 582.91,729.38 583.28,729.5 583.65,729.69 584.02,729.87 584.39,729.83 584.76,729.74 585.13,729.65 585.5,729.53 585.87,729.42 586.24,729.33 586.61,729.37 586.98,729.42 587.35,729.48 587.72,729.56 588.08,729.65 588.45,729.73 588.82,729.81 589.19,729.88 589.56,729.68 589.93,729.32 590.3,730.04 590.67,730.39 591.04,730.53 591.41,730.41 591.78,730.2 592.15,730.16 592.52,730.12 592.89,729.9 593.26,729.68 593.63,729.49 594,729.35 594.37,729.21 594.74,729.24 595.11,729.43 595.48,729.61 595.85,729.71 596.22,729.77 596.59,729.82 596.96,729.85 597.32,729.87 597.69,729.89 598.06,729.88 598.43,729.93 598.8,729.93 599.17,729.72 599.54,729.47 599.91,729.37 600.28,729.51 600.65,729.65 601.02,729.61 601.39,729.39 601.76,729.17 602.13,729.32 602.5,729.66 602.87,730 603.24,730 603.61,729.93 603.98,729.86 604.35,729.76 604.72,729.67 605.09,729.61 605.46,729.79 605.83,729.83 606.2,728.76 606.56,728.3 606.93,728.76 607.3,729.09 607.67,729.18 608.04,729.19 608.41,729.16 608.78,729.11 609.15,729.06 609.52,729.17 609.89,729.3 610.26,729.43 610.63,729.68 611,729.93 611.37,730.09 611.74,729.86 612.11,729.62 612.48,729.47 612.85,729.48 613.22,729.49 613.59,729.5 613.96,729.53 614.33,729.55 614.7,729.62 615.07,729.7 615.44,729.79 615.8,729.65 616.17,729.41 616.54,728.97 616.91,728.63 617.28,728.55 617.65,728.5 618.02,729.18 618.39,729.75 618.76,729.93 619.13,729.69 619.5,729.45 619.87,729.39 620.24,729.5 620.61,729.57 620.98,729.4 621.35,729.23 621.72,729.26 622.09,729.27 622.46,729.19 622.83,729.04 623.2,729.02 623.57,728.99 623.94,728.99 624.31,729.12 624.68,729.25 625.04,729.41 625.41,729.6 625.78,729.79 626.15,729.73 626.52,729.41 626.89,729.1 627.26,729.21 627.63,729.52 628,729.83 628.37,729.81 628.74,729.72 629.11,729.63 629.48,729.44 629.85,729.25 630.22,729.12 630.59,729.34 630.96,729.55 631.33,729.7 631.7,729.72 632.07,729.73 632.44,729.59 632.81,729.3 633.18,729.01 633.55,728.91 633.92,728.91 634.28,728.9 634.65,729.12 635.02,729.39 635.39,729.65 635.76,729.61 636.13,729.56 636.5,729.42 636.87,729.19 637.24,729.04 637.61,729.25 637.98,729.57 638.35,729.77 638.72,729.8 639.09,729.75 639.46,729.7 639.83,729.47 640.2,729.15 640.57,728.83 640.94,729.1 641.31,729.48 641.68,729.86 642.05,729.79 642.42,729.72 642.79,729.66 643.16,729.67 643.52,729.67 643.89,729.69 644.26,729.74 644.63,729.79 645,729.71 645.37,729.51 645.74,729.32 646.11,729.19 646.48,729.09 646.85,728.99 647.22,728.93 647.59,728.89 647.96,728.84 648.33,728.92 648.7,729.01 649.07,729.06 649.44,728.97 649.81,728.87 650.18,728.67 650.55,728.59 650.92,729.3 651.29,729.71 651.66,729.61 652.03,729.49 652.4,729.25 652.76,728.95 653.13,728.66 653.5,728.92 653.87,729.3 654.24,729.67 654.61,729.58 654.98,729.49 655.35,729.4 655.72,729.3 656.09,729.2 656.46,729.17 656.83,729.25 657.2,729.34 657.57,729.32 657.94,729.21 658.31,729.22 658.68,729.47 659.05,729.49 659.42,729.25 659.79,728.88 660.16,729.04 660.53,729.27 660.9,729.05 661.27,728.74 661.64,728.54 662,728.88 662.37,729.23 662.74,729.34 663.11,729.01 663.48,728.68 663.85,728.67 664.22,728.98 664.59,729.32 664.96,729.21 665.33,728.84 665.7,728.45 666.07,728.49 666.44,728.62 666.81,728.75 667.18,728.76 667.55,728.77 667.92,728.81 668.29,729.02 668.66,729.23 669.03,729.37 669.4,729.37 669.77,729.38 670.14,729.26 670.51,728.99 670.88,728.7 671.24,728.77 671.61,729.01 671.98,729.26 672.35,729.29 672.72,729.29 673.09,729.28 673.46,729 673.83,728.73 674.2,728.5 674.57,728.47 674.94,728.45 675.31,728.55 675.68,728.9 676.05,729.25 676.42,729.23 676.79,728.83 677.16,728.44 677.53,728.43 677.9,728.61 678.27,728.79 678.64,728.88 679.01,728.94 679.38,729 679.75,729.12 680.12,729.24 680.48,729.31 680.85,729.19 681.22,729.07 681.59,728.9 681.96,728.65 682.33,728.39" fill="none" stroke="#000" stroke-width="1.1" stroke-linejoin="round"/>
<path d="M305.5,730.3 V727.6 H313.7 M305.5,744 V750.8 M323.4,731.7 V740.1 M317.2,754.2 H323.9" fill="none" stroke="#222" stroke-width="1.25"/>
<line x1="323.4" y1="726.3" x2="384.4" y2="675.9" stroke="#222" stroke-width="1.3" stroke-dasharray="13.6 8.8"/>
<path d="M387.7,570.9 H403.3 M421.7,570.9 H447.6 V609 M447.6,629 V672.4" fill="none" stroke="#555" stroke-width="1"/>
<path d="M387.7,570.4 V672.4 H448.1" fill="none" stroke="#111" stroke-width="1.4"/>
<path d="M387.7,663.6 h-8.2M387.7,647.25 h-3.8M387.7,630.9 h-3.8M387.7,614.55 h-3.8M387.7,598.2 h-3.8M387.7,581.85 h-8.2" fill="none" stroke="#111" stroke-width="1.2"/>
<text x="376.1" y="668.9" font-size="15" text-anchor="end" fill="#111">0</text>
<text x="376.1" y="587.15" font-size="15" text-anchor="end" fill="#111">25</text>
<path d="M391,672.4 v6.8M408.4,672.4 v6.8M444.8,672.4 v6.8" fill="none" stroke="#666" stroke-width="1.1"/>
<line x1="426.5" y1="672.4" x2="426.5" y2="684.2" stroke="#111" stroke-width="1.3"/>
<text x="425.6" y="700.9" font-size="14.6" text-anchor="middle" fill="#111">27.5</text>
<text x="424" y="721.8" font-size="17.8" text-anchor="middle" textLength="66.6" lengthAdjust="spacingAndGlyphs" fill="#111">RT(min)</text>
<text transform="translate(351,621.3) rotate(-90)" font-size="18.2" text-anchor="middle" textLength="93.3" lengthAdjust="spacingAndGlyphs" fill="#111">Abundance</text>
<text transform="translate(417.2,617.6) rotate(-90)" font-size="15.4" textLength="57" lengthAdjust="spacingAndGlyphs" fill="#111">C17H36</text>
<line x1="411.5" y1="621.8" x2="411.5" y2="653" stroke="#888" stroke-width="0.9"/>
<path d="M388.1,662.52 389,662.23 389.9,662.87 390.8,662.34 391.7,662.15 392.6,662.88 393.5,664.02 394.4,663.76 395.3,663.68 396.2,662.49 397.1,663.18 398,662.61 398.9,662.38 399.8,662.23 400.7,662.47 401.6,664.04 402.5,663.82 403.4,663.77 404.3,663.76 405.2,662.43 406.1,662.68 407,663.38 407.9,663.61 408.8,663.88 409.7,663.94 410.6,662.19 411,661.8 411.7,659.8 412.3,657.4 413,658.6 413.6,661 414.2,662 414.8,659 415.4,647.5 416.2,639.1 416.9,641.5 417.5,652 418,660.5 418.7,662.8 419.3,662.2 420.5,664 421.4,663.26 422.3,663.94 423.2,663.87 424.1,663.12 425,662.91 425.9,663.32 426.8,662.95 427.7,662.35 428.6,662.67 429.5,663.79 430.4,662.1 431.3,662.1 432.2,663.38 433.1,662.62 434,663.18 434.9,663.04 435.8,662.75 436.7,664.19 437.6,662.43 438.5,662.91 439.4,662.45 440.3,663.39 441.2,662.61 442.1,662.78 443,663.64 443.9,662.71 444.8,663.23 445.7,663.99 446.6,662.22" fill="none" stroke="#000" stroke-width="0.95" stroke-linejoin="round"/>
<rect x="431.5" y="609.6" width="70" height="19" fill="#fff"/>
<text x="432" y="632" font-size="26" font-weight="bold" fill="#111">*</text>
<text x="444.5" y="623.9" font-size="15.5" textLength="56" lengthAdjust="spacingAndGlyphs" fill="#111">C17H36</text>
<path d="M428.7,624.5 L417.5,634.4 M417.5,634.4 l1.6,-5.4 M417.5,634.4 l5.6,-1.2" fill="none" stroke="#111" stroke-width="1.1"/>
<path d="M683.3,1013.6 V851.5" fill="none" stroke="#484848" stroke-width="1.05"/>
<path d="M50.6,851.5 V1013.6 H683.8" fill="none" stroke="#2a2a2a" stroke-width="1.2"/>
<line x1="50.6" y1="851.5" x2="70.3" y2="851.5" stroke="#484848" stroke-width="1.05"/>
<line x1="268.5" y1="851.5" x2="683.3" y2="851.5" stroke="#484848" stroke-width="1.05"/>
<path d="M50.6,1004.99 h-2M50.6,998.3 h-3.9M50.6,991.61 h-2M50.6,984.92 h-2M50.6,978.23 h-2M50.6,971.54 h-2M50.6,964.85 h-3.9M50.6,958.16 h-2M50.6,951.47 h-2M50.6,944.78 h-2M50.6,938.09 h-2M50.6,931.4 h-3.9M50.6,924.71 h-2M50.6,918.02 h-2M50.6,911.33 h-2M50.6,904.64 h-2M50.6,897.95 h-3.9M50.6,891.26 h-2M50.6,884.57 h-2M50.6,877.88 h-2M50.6,871.19 h-2M50.6,864.5 h-3.9M50.6,857.81 h-2" fill="none" stroke="#333" stroke-width="1"/>
<text x="45.2" y="1002.9" font-size="12.9" text-anchor="end" fill="#111">0</text>
<text x="45.2" y="969.45" font-size="12.9" text-anchor="end" fill="#111">25</text>
<text x="45.2" y="936" font-size="12.9" text-anchor="end" fill="#111">50</text>
<text x="45.2" y="902.55" font-size="12.9" text-anchor="end" fill="#111">75</text>
<text x="45.2" y="869.1" font-size="12.9" text-anchor="end" fill="#111">100</text>
<path d="M53.52,1013.6 v1.9M59.68,1013.6 v1.9M65.84,1013.6 v1.9M72,1013.6 v3.9M78.16,1013.6 v1.9M84.32,1013.6 v1.9M90.48,1013.6 v1.9M96.64,1013.6 v1.9M102.8,1013.6 v3.9M108.96,1013.6 v1.9M115.12,1013.6 v1.9M121.28,1013.6 v1.9M127.44,1013.6 v1.9M133.6,1013.6 v3.9M139.76,1013.6 v1.9M145.92,1013.6 v1.9M152.08,1013.6 v1.9M158.24,1013.6 v1.9M164.4,1013.6 v3.9M170.56,1013.6 v1.9M176.72,1013.6 v1.9M182.88,1013.6 v1.9M189.04,1013.6 v1.9M195.2,1013.6 v3.9M201.36,1013.6 v1.9M207.52,1013.6 v1.9M213.68,1013.6 v1.9M219.84,1013.6 v1.9M226,1013.6 v3.9M232.16,1013.6 v1.9M238.32,1013.6 v1.9M244.48,1013.6 v1.9M250.64,1013.6 v1.9M256.8,1013.6 v3.9M262.96,1013.6 v1.9M269.12,1013.6 v1.9M275.28,1013.6 v1.9M281.44,1013.6 v1.9M287.6,1013.6 v3.9M293.76,1013.6 v1.9M299.92,1013.6 v1.9M306.08,1013.6 v1.9M312.24,1013.6 v1.9M318.4,1013.6 v3.9M324.56,1013.6 v1.9M330.72,1013.6 v1.9M336.88,1013.6 v1.9M343.04,1013.6 v1.9M349.2,1013.6 v3.9M355.36,1013.6 v1.9M361.52,1013.6 v1.9M367.68,1013.6 v1.9M373.84,1013.6 v1.9M380,1013.6 v3.9M386.16,1013.6 v1.9M392.32,1013.6 v1.9M398.48,1013.6 v1.9M404.64,1013.6 v1.9M410.8,1013.6 v3.9M416.96,1013.6 v1.9M423.12,1013.6 v1.9M429.28,1013.6 v1.9M435.44,1013.6 v1.9M441.6,1013.6 v3.9M447.76,1013.6 v1.9M453.92,1013.6 v1.9M460.08,1013.6 v1.9M466.24,1013.6 v1.9M472.4,1013.6 v3.9M478.56,1013.6 v1.9M484.72,1013.6 v1.9M490.88,1013.6 v1.9M497.04,1013.6 v1.9M503.2,1013.6 v3.9M509.36,1013.6 v1.9M515.52,1013.6 v1.9M521.68,1013.6 v1.9M527.84,1013.6 v1.9M534,1013.6 v3.9M540.16,1013.6 v1.9M546.32,1013.6 v1.9M552.48,1013.6 v1.9M558.64,1013.6 v1.9M564.8,1013.6 v3.9M570.96,1013.6 v1.9M577.12,1013.6 v1.9M583.28,1013.6 v1.9M589.44,1013.6 v1.9M595.6,1013.6 v3.9M601.76,1013.6 v1.9M607.92,1013.6 v1.9M614.08,1013.6 v1.9M620.24,1013.6 v1.9M626.4,1013.6 v3.9M632.56,1013.6 v1.9M638.72,1013.6 v1.9M644.88,1013.6 v1.9M651.04,1013.6 v1.9M657.2,1013.6 v3.9M663.36,1013.6 v1.9M669.52,1013.6 v1.9M675.68,1013.6 v1.9M681.84,1013.6 v1.9" fill="none" stroke="#333" stroke-width="1"/>
<text x="102.8" y="1027.6" font-size="12.9" text-anchor="middle" fill="#111">10</text>
<text x="164.4" y="1027.6" font-size="12.9" text-anchor="middle" fill="#111">15</text>
<text x="226" y="1027.6" font-size="12.9" text-anchor="middle" fill="#111">20</text>
<text x="287.6" y="1027.6" font-size="12.9" text-anchor="middle" fill="#111">25</text>
<text x="349.2" y="1027.6" font-size="12.9" text-anchor="middle" fill="#111">30</text>
<text x="410.8" y="1027.6" font-size="12.9" text-anchor="middle" fill="#111">35</text>
<text x="472.4" y="1027.6" font-size="12.9" text-anchor="middle" fill="#111">40</text>
<text x="534" y="1027.6" font-size="12.9" text-anchor="middle" fill="#111">45</text>
<text x="595.6" y="1027.6" font-size="12.9" text-anchor="middle" fill="#111">50</text>
<text x="657.2" y="1027.6" font-size="12.9" text-anchor="middle" fill="#111">55</text>
<text x="367" y="1049.1" font-size="18.2" text-anchor="middle" textLength="166" lengthAdjust="spacingAndGlyphs" fill="#111">Retention time (min)</text>
<text transform="translate(14.4,931.4) rotate(-90)" font-size="18.2" text-anchor="middle" textLength="93.5" lengthAdjust="spacingAndGlyphs" fill="#111">Abundance</text>
<text x="4.6" y="853.9" font-size="19.3" font-weight="bold" textLength="12.2" lengthAdjust="spacingAndGlyphs" fill="#111">d</text>
<text x="77.8" y="861.4" font-size="23.5" textLength="179.6" lengthAdjust="spacingAndGlyphs" fill="#111">Crude oil + CT10</text>
<path d="M51.06,997.95 51.43,997.89 51.8,997.83 52.16,997.76 52.53,997.66 52.9,997.55 53.27,997.48 53.64,997.49 54.01,997.49 54.38,997.55 54.75,997.71 55.12,998.07 55.49,998.24 55.86,997.92 56.23,997.51 56.6,997.6 56.97,997.84 57.34,998.09 57.71,998.01 58.08,997.94 58.45,997.89 58.82,997.96 59.19,998.03 59.56,998.05 59.93,997.98 60.3,997.91 60.67,997.8 61.04,997.64 61.4,997.49 61.77,997.46 62.14,997.47 62.51,997.49 62.88,997.63 63.25,997.64 63.62,997.17 63.99,995.62 64.36,993.64 64.73,992.68 65.1,993.52 65.47,995.25 65.84,996.59 66.21,995.48 66.58,991.61 66.95,995.06 67.32,996.47 67.69,995.99 68.06,996.83 68.43,997.75 68.8,998.05 69.17,998.04 69.54,998 69.91,997.96 70.28,997.8 70.64,997.64 71.01,997.53 71.38,997.68 71.75,997.77 72.12,997.42 72.49,995.75 72.86,993.22 73.23,992.28 73.6,993.56 73.97,995.18 74.34,995.71 74.71,995.27 75.08,994.94 75.45,995.54 75.82,996.45 76.19,997.11 76.56,997.38 76.93,996.97 77.3,996.61 77.67,997.08 78.04,997.78 78.41,998.09 78.78,998.05 79.15,997.96 79.52,997.94 79.88,998.01 80.25,998.07 80.62,998.07 80.99,997.78 81.36,997.62 81.73,998.51 82.1,998.56 82.47,998.3 82.84,997.99 83.21,997.73 83.58,997.55 83.95,997.73 84.32,997.9 84.69,998.05 85.06,998.13 85.43,998.22 85.8,998.3 86.17,998.36 86.54,998.43 86.91,998.41 87.28,998.36 87.65,998.3 88.02,998.1 88.39,997.88 88.76,997.66 89.12,997.85 89.49,998.05 89.86,998.2 90.23,998.25 90.6,998.53 90.97,998.17 91.34,998.14 91.71,998.29 92.08,998.3 92.45,998.16 92.82,998.02 93.19,998.03 93.56,998.11 93.93,998.2 94.3,998.13 94.67,998.04 95.04,997.95 95.41,998.03 95.78,998.12 96.15,998.2 96.52,998.27 96.89,998.34 97.26,998.47 97.63,998.72 98,998.92 98.36,998.76 98.73,998.46 99.1,998.27 99.47,998.09 99.84,997.34 100.21,996.43 100.58,997.19 100.95,997.98 101.32,998.18 101.69,998.28 102.06,998.37 102.43,998.45 102.8,998.48 103.17,998.51 103.54,998.52 103.91,998.36 104.28,998.18 104.65,998.09 105.02,998.12 105.39,998.15 105.76,998.32 106.13,998.37 106.5,997.54 106.87,994.98 107.24,993.22 107.6,994.35 107.97,996.63 108.34,997.93 108.71,998.28 109.08,998.39 109.45,998.44 109.82,998.44 110.19,998.34 110.56,998.24 110.93,998.22 111.3,998.3 111.67,998.48 112.04,998.76 112.41,998.92 112.78,999.04 113.15,998.81 113.52,998.63 113.89,998.6 114.26,999.03 114.63,999.15 115,999.13 115.37,999 115.74,998.96 116.11,998.88 116.48,998.66 116.84,998.45 117.21,998.49 117.58,998.81 117.95,999.12 118.32,999.17 118.69,999.09 119.06,999.01 119.43,998.93 119.8,998.85 120.17,998.75 120.54,998.51 120.91,998.03 121.28,998.69 121.65,999.12 122.02,999.18 122.39,999.12 122.76,998.93 123.13,998.73 123.5,998.67 123.87,998.75 124.24,998.92 124.61,999.21 124.98,999.39 125.35,999.15 125.72,998.84 126.08,998.7 126.45,998.66 126.82,998.62 127.19,998.54 127.56,998.26 127.93,998.02 128.3,998.23 128.67,998.78 129.04,999.28 129.41,998.96 129.78,998.62 130.15,998.5 130.52,998.43 130.89,998.52 131.26,998.69 131.63,998.87 132,998.82 132.37,998.72 132.74,998.63 133.11,998.69 133.48,998.8 133.85,999.11 134.22,999.97 134.59,1001.62 134.96,1002.58 135.32,1001.81 135.69,1000.21 136.06,999.1 136.43,998.59 136.8,998.18 137.17,997.84 137.54,997.95 137.91,998.19 138.28,998.47 138.65,998.66 139.02,998.81 139.39,998.85 139.76,998.76 140.13,998.14 140.5,991.72 140.87,977.43 141.24,989.96 141.61,997.53 141.98,998.55 142.35,998.85 142.72,998.95 143.09,999.01 143.46,998.99 143.83,998.93 144.2,998.87 144.56,998.69 144.93,998.48 145.3,998.27 145.67,998.09 146.04,997.9 146.41,997.73 146.78,997.83 147.15,997.97 147.52,998.31 147.89,998.25 148.26,998.02 148.63,998.01 149,998.3 149.37,998.58 149.74,998.53 150.11,998.3 150.48,998.06 150.85,998.12 151.22,998.24 151.59,998.36 151.96,998.24 152.33,997.96 152.7,997.61 153.07,997.18 153.44,996.66 153.8,997.15 154.17,997.81 154.54,998.06 154.91,998.15 155.28,998.16 155.65,998.16 156.02,998.03 156.39,997.82 156.76,997.6 157.13,997.86 157.5,998.22 157.87,998.58 158.24,998.43 158.61,998.27 158.98,998.1 159.35,997.85 159.72,997.57 160.09,997.24 160.46,996.83 160.83,996.16 161.2,995.27 161.57,994.44 161.94,994.02 162.31,994.53 162.68,995.61 163.04,996.8 163.41,997.24 163.78,997.32 164.15,997.22 164.52,997.51 164.89,997.74 165.26,997.88 165.63,997.56 166,997.24 166.37,996.97 166.74,996.82 167.11,996.65 167.48,996.84 167.85,997.4 168.22,997.99 168.59,998.06 168.96,997.86 169.33,997.66 169.7,997.18 170.07,996.63 170.44,996.06 170.81,996.52 171.18,996.93 171.55,997.24 171.92,996.81 172.28,995.92 172.65,994.92 173.02,993.91 173.39,982.43 173.76,956.02 174.13,980.41 174.5,995.08 174.87,996.63 175.24,996.46 175.61,995.67 175.98,995.6 176.35,996.21 176.72,997.47 177.09,997.49 177.46,996.59 177.83,993.16 178.2,988.26 178.57,994 178.94,997.11 179.31,997.25 179.68,996.57 180.05,995.24 180.42,996.54 180.79,997.35 181.16,997.58 181.52,997.78 181.89,997.99 182.26,997.19 182.63,995.82 183,993.74 183.37,993.65 183.74,994.81 184.11,995.54 184.48,994.83 184.85,995.12 185.22,995.72 185.59,996.02 185.96,995.7 186.33,995.07 186.7,995.1 187.07,995.14 187.44,995.11 187.81,995.18 188.18,995.26 188.55,995.19 188.92,993.62 189.29,991.5 189.66,993.63 190.03,995.46 190.4,995.94 190.76,995.67 191.13,995.48 191.5,995.32 191.87,995.63 192.24,996.05 192.61,996.09 192.98,995.01 193.35,992.99 193.72,991.62 194.09,991.61 194.46,992.93 194.83,993.97 195.2,994.45 195.57,994.73 195.94,991.6 196.31,983.18 196.68,991.04 197.05,995.89 197.42,996.21 197.79,995.59 198.16,995.46 198.53,995.11 198.9,994.63 199.27,993.94 199.64,992.82 200,992.28 200.37,992.87 200.74,993.91 201.11,994.57 201.48,994.8 201.85,994.85 202.22,995.48 202.59,996.12 202.96,996.63 203.33,996.5 203.7,996.29 204.07,995.69 204.44,993.42 204.81,971.5 205.18,922.03 205.55,965.75 205.92,991.6 206.29,994.27 206.66,994.34 207.03,993.65 207.4,992.8 207.77,991.91 208.14,991.61 208.51,993.44 208.88,995.29 209.24,996.14 209.61,994.45 209.98,993.51 210.35,992.84 210.72,991.96 211.09,990.94 211.46,992.16 211.83,993.63 212.2,993.73 212.57,992.25 212.94,990.94 213.31,990.98 213.68,991.91 214.05,992.83 214.42,993.25 214.79,994.36 215.16,995.32 215.53,995.99 215.9,995.28 216.27,994.56 216.64,993.88 217.01,993.25 217.38,992.63 217.75,992.39 218.12,992.52 218.48,992.63 218.85,992.4 219.22,991.5 219.59,989.98 219.96,990.27 220.33,992.32 220.7,995.02 221.07,994.87 221.44,994.14 221.81,993.35 222.18,993.56 222.55,992.31 222.92,988.26 223.29,989.9 223.66,991.36 224.03,992.26 224.4,993.58 224.77,993.94 225.14,992.04 225.51,990.27 225.88,990.3 226.25,991.16 226.62,990.52 226.99,986.89 227.36,978.9 227.72,986.53 228.09,989.21 228.46,991.33 228.83,992.87 229.2,993.55 229.57,994.43 229.94,994.79 230.31,995.16 230.68,994.27 231.05,991.8 231.42,993.12 231.79,994.22 232.16,994.7 232.53,994.73 232.9,994.33 233.27,993.44 233.64,992.28 234.01,988.34 234.38,960.35 234.75,896.61 235.12,955.68 235.49,990.07 235.86,992.02 236.23,990.2 236.6,988.9 236.96,989.43 237.33,989.55 237.7,989.4 238.07,991.72 238.44,993.59 238.81,993.95 239.18,993.95 239.55,993.76 239.92,994.08 240.29,993.82 240.66,993.03 241.03,993.5 241.4,993.76 241.77,993.65 242.14,993.76 242.51,993.15 242.88,992.46 243.25,993.07 243.62,993.9 243.99,993.4 244.36,990.59 244.73,984.88 245.1,982.24 245.47,985.62 245.84,989.84 246.2,990.55 246.57,991.32 246.94,991.16 247.31,988.4 247.68,986.26 248.05,987.49 248.42,991.08 248.79,993.78 249.16,994.73 249.53,991.91 249.9,984.92 250.27,990.47 250.64,992.63 251.01,990.65 251.38,981.93 251.75,961.5 252.12,982.12 252.49,993.14 252.86,994.05 253.23,993.62 253.6,992.22 253.97,989.79 254.34,988.93 254.71,990.44 255.08,992.67 255.44,993.79 255.81,993.46 256.18,994.04 256.55,994.11 256.92,993.8 257.29,993.47 257.66,994.01 258.03,994.72 258.4,995.43 258.77,994.7 259.14,993.98 259.51,993.51 259.88,994.32 260.25,995.14 260.62,995.65 260.99,995.48 261.36,994.58 261.73,990.77 262.1,959.41 262.47,890.32 262.84,952.24 263.21,988.6 263.58,991.64 263.95,990.41 264.32,990.24 264.68,991.14 265.05,992.62 265.42,993.76 265.79,994.09 266.16,993.23 266.53,992.29 266.9,991.76 267.27,992.05 267.64,992.34 268.01,992.49 268.38,992.09 268.75,991.76 269.12,992.06 269.49,992.25 269.86,991.95 270.23,991.98 270.6,991.91 270.97,991.27 271.34,991.25 271.71,992.42 272.08,993.61 272.45,993.31 272.82,992.69 273.19,991.59 273.56,990.18 273.92,989.6 274.29,989.4 274.66,990.64 275.03,991.8 275.4,991.22 275.77,990.1 276.14,989.29 276.51,988.11 276.88,986 277.25,984.24 277.62,983.38 277.99,985.79 278.36,986.34 278.73,984.87 279.1,984.25 279.47,986.7 279.84,989.35 280.21,990.35 280.58,989.32 280.95,988.23 281.32,988.35 281.69,989.9 282.06,991.34 282.43,991.76 282.8,990.84 283.16,990.67 283.53,990.69 283.9,992.34 284.27,993.76 284.64,994.62 285.01,993.06 285.38,991.61 285.75,991.44 286.12,992.68 286.49,993.67 286.86,993.67 287.23,992.73 287.6,991.24 287.97,988.46 288.34,961.26 288.71,899.29 289.08,954.84 289.45,987.43 289.82,990.42 290.19,990.38 290.56,990.24 290.93,991.4 291.3,992.71 291.67,993.21 292.04,992.66 292.4,992.14 292.77,991.53 293.14,990.96 293.51,990.4 293.88,990.08 294.25,990.81 294.62,991.63 294.99,991.39 295.36,991.44 295.73,992.03 296.1,992.68 296.47,993.4 296.84,994.03 297.21,993.79 297.58,992.62 297.95,991.43 298.32,991.04 298.69,992.18 299.06,993.34 299.43,993.85 299.8,993.29 300.17,991.93 300.54,983.43 300.91,964.05 301.28,978.04 301.64,989.67 302.01,992.21 302.38,992.88 302.75,992.87 303.12,992.8 303.49,992.61 303.86,991.82 304.23,990.84 304.6,988.04 304.97,982.91 305.34,988.05 305.71,991.25 306.08,992.24 306.45,993.54 306.82,993.78 307.19,992.76 307.56,991.08 307.93,990.27 308.3,990.93 308.67,992.2 309.04,992.59 309.41,992.45 309.78,992.13 310.15,992.07 310.52,991.67 310.88,991.52 311.25,991.86 311.62,990.95 311.99,992.92 312.36,993.01 312.73,991.72 313.1,989.23 313.47,965.12 313.84,909.99 314.21,957.91 314.58,983.95 314.95,972.17 315.32,933.86 315.69,969.37 316.06,989.74 316.43,989.86 316.8,987.3 317.17,989.58 317.54,992.41 317.91,993.8 318.28,993.98 318.65,993.32 319.02,992.55 319.39,991.9 319.76,990.81 320.12,988.86 320.49,989.65 320.86,990.53 321.23,989.73 321.6,988.68 321.97,990.62 322.34,992.25 322.71,991.55 323.08,990.02 323.45,990.54 323.82,990.42 324.19,988.72 324.56,987.6 324.93,988.56 325.3,990.55 325.67,991.31 326.04,990.35 326.41,989.2 326.78,990.89 327.15,992.74 327.52,992.51 327.89,988.28 328.26,985.59 328.63,986.93 329,990.38 329.36,992.77 329.73,993.68 330.1,993.94 330.47,993.99 330.84,993.65 331.21,992.46 331.58,990.48 331.95,989.6 332.32,989.81 332.69,990.8 333.06,992.3 333.43,992.99 333.8,992.3 334.17,991.35 334.54,989.96 334.91,989.34 335.28,990.05 335.65,992.38 336.02,994.31 336.39,994.04 336.76,990.94 337.13,968.63 337.5,921.23 337.87,962.86 338.24,988.05 338.6,990.11 338.97,982.42 339.34,967.5 339.71,981.66 340.08,992.29 340.45,993.25 340.82,992.61 341.19,991.44 341.56,991.07 341.93,991.53 342.3,992.46 342.67,991.53 343.04,990.36 343.41,990.66 343.78,991.15 344.15,990.97 344.52,991.54 344.89,992.2 345.26,992.43 345.63,993.34 346,994.4 346.37,995.46 346.74,993.9 347.11,992.33 347.48,991.06 347.84,991.25 348.21,991.45 348.58,991.79 348.95,992.22 349.32,992.3 349.69,992.8 350.06,992.41 350.43,991.74 350.8,991.82 351.17,992.27 351.54,992.47 351.91,991.91 352.28,991.25 352.65,992.8 353.02,992.79 353.39,993.22 353.76,992.21 354.13,990.62 354.5,990.58 354.87,991.35 355.24,992.4 355.61,993.1 355.98,993.78 356.35,994.51 356.72,995.04 357.08,994.18 357.45,990.48 357.82,984.25 358.19,990.59 358.56,994.09 358.93,993.98 359.3,991.14 359.67,969.01 360.04,920.16 360.41,962.96 360.78,988.3 361.15,991.45 361.52,992.52 361.89,993.02 362.26,993.23 362.63,993.29 363,993.34 363.37,992.69 363.74,991.68 364.11,990.67 364.48,991.35 364.85,991.6 365.22,990.39 365.59,988.87 365.96,989.86 366.32,989.98 366.69,991.39 367.06,993.05 367.43,993.8 367.8,993.31 368.17,992.75 368.54,992.75 368.91,993.31 369.28,993.86 369.65,994.1 370.02,994.03 370.39,993.09 370.76,991.65 371.13,992.19 371.5,992.85 371.87,993.45 372.24,993.83 372.61,994.04 372.98,993.55 373.35,993.07 373.72,992.58 374.09,992.08 374.46,991.59 374.83,991.41 375.2,991.49 375.56,991.27 375.93,990.69 376.3,990.52 376.67,990.37 377.04,990.31 377.41,990.23 377.78,991.15 378.15,991.5 378.52,991.1 378.89,992.47 379.26,992.29 379.63,991.34 380,990.73 380.37,990.8 380.74,989.3 381.11,969.76 381.48,925.25 381.85,963.71 382.22,986.41 382.59,988.86 382.96,989.15 383.33,989.84 383.7,990.59 384.07,991.32 384.44,991.76 384.8,992.19 385.17,992.52 385.54,992.32 385.91,992.11 386.28,991.82 386.65,991.23 387.02,990.67 387.39,990.94 387.76,991.56 388.13,991.94 388.5,992.27 388.87,992.61 389.24,992.95 389.61,992.59 389.98,992.09 390.35,991.58 390.72,991.15 391.09,990.71 391.46,990.18 391.83,989.17 392.2,988.14 392.57,988.63 392.94,989.48 393.31,989.76 393.68,989.71 394.04,989.51 394.41,989.31 394.78,989.32 395.15,989.45 395.52,989.58 395.89,990.11 396.26,990.69 396.63,991.13 397,989.09 397.37,984.92 397.74,987.94 398.11,990.72 398.48,991.97 398.85,991.85 399.22,989.87 399.59,989.48 399.96,989.6 400.33,989.81 400.7,989.84 401.07,989.5 401.44,986.6 401.81,965.46 402.18,920.16 402.55,962.44 402.92,987.02 403.28,990.38 403.65,991.4 404.02,991.67 404.39,990.86 404.76,990.03 405.13,989.67 405.5,990.22 405.87,990.77 406.24,990.77 406.61,990.19 406.98,989.5 407.35,988.61 407.72,987.43 408.09,986.87 408.46,987.7 408.83,988.57 409.2,988.64 409.57,988.9 409.94,989.83 410.31,990.78 410.68,990.94 411.05,990.46 411.42,989.36 411.79,988.49 412.16,987.62 412.52,987.67 412.89,988.24 413.26,988.43 413.63,989.17 414,990.22 414.37,991.18 414.74,990.69 415.11,990.02 415.48,990.04 415.85,989.78 416.22,989.23 416.59,988.64 416.96,988.28 417.33,987.81 417.7,988.46 418.07,989.55 418.44,990.31 418.81,990.51 419.18,990.23 419.55,989.94 419.92,989.3 420.29,988.48 420.66,987.59 421.03,988.06 421.4,987.25 421.76,968.39 422.13,922.7 422.5,962.76 422.87,986.34 423.24,988.65 423.61,988.73 423.98,988.33 424.35,987.95 424.72,987.55 425.09,987.29 425.46,987.2 425.83,987.1 426.2,987.53 426.57,988.21 426.94,988.89 427.31,988.57 427.68,988.05 428.05,987.51 428.42,987.13 428.79,986.7 429.16,986.53 429.53,987.52 429.9,988.56 430.27,989.3 430.64,989.45 431,989.58 431.37,989.59 431.74,989.51 432.11,989.43 432.48,988.86 432.85,988.04 433.22,987.23 433.59,987.87 433.96,988.8 434.33,989.73 434.7,989.09 435.07,988.46 435.44,987.83 435.81,987.23 436.18,986.63 436.55,986.58 436.92,987.53 437.29,987.92 437.66,987.42 438.03,987.36 438.4,987.4 438.77,987.43 439.14,987.57 439.51,987.62 439.88,986.63 440.24,983.91 440.61,963.41 440.98,919.36 441.35,959.63 441.72,983.65 442.09,986.65 442.46,987.49 442.83,987.5 443.2,986.86 443.57,986.01 443.94,985.56 444.31,985.9 444.68,986.15 445.05,986.72 445.42,987.73 445.79,988.8 446.16,988.24 446.53,987.31 446.9,986.36 447.27,986.94 447.64,987.52 448.01,987.87 448.38,987.05 448.75,986.23 449.12,985.68 449.48,985.68 449.85,985.68 450.22,986.01 450.59,986.66 450.96,987.32 451.33,987.59 451.7,987.67 452.07,987.71 452.44,987.77 452.81,987.8 453.18,987.74 453.55,987.43 453.92,987.69 454.29,988.03 454.66,988.22 455.03,988.29 455.4,988.33 455.77,988.34 456.14,988.35 456.51,987.94 456.88,987.11 457.25,986.22 457.62,986.08 457.99,984.83 458.36,967.65 458.72,927.39 459.09,962.49 459.46,982.88 459.83,985.43 460.2,986 460.57,986.05 460.94,985.83 461.31,985.58 461.68,985.39 462.05,985.28 462.42,985.23 462.79,985.23 463.16,984.96 463.53,984.53 463.9,984.92 464.27,985.73 464.64,986.54 465.01,986.83 465.38,987.02 465.75,987.21 466.12,986.49 466.49,985.78 466.86,985.25 467.23,985.6 467.6,985.96 467.96,985.86 468.33,984.83 468.7,983.63 469.07,982.48 469.44,981.97 469.81,982.46 470.18,983.3 470.55,983.8 470.92,984.09 471.29,983.93 471.66,983.69 472.03,983.44 472.4,984.16 472.77,984.87 473.14,985.36 473.51,984.78 473.88,983.89 474.25,983.14 474.62,982.82 474.99,982.78 475.36,983.13 475.73,981.95 476.1,963.83 476.47,922.7 476.84,957.97 477.2,978.41 477.57,980.33 477.94,980.75 478.31,980.74 478.68,980.88 479.05,981.91 479.42,982.92 479.79,984.07 480.16,984.91 480.53,985.21 480.9,984.53 481.27,983.86 481.64,983.78 482.01,984.28 482.38,984.78 482.75,984.2 483.12,982.8 483.49,981.3 483.86,981.94 484.23,982.82 484.6,983.4 484.97,983.34 485.34,983 485.71,982.49 486.08,983.23 486.44,983.73 486.81,983.69 487.18,983.27 487.55,982.89 487.92,982.66 488.29,982.62 488.66,982.57 489.03,982.36 489.4,982.05 489.77,981.75 490.14,981.99 490.51,982.33 490.88,982.66 491.25,982.72 491.62,982.59 491.99,983.09 492.36,982.5 492.73,980.39 493.1,964.63 493.47,930.06 493.84,962.01 494.21,980.43 494.58,981.77 494.95,981.38 495.32,981.48 495.68,981.95 496.05,982.4 496.42,981.98 496.79,981.38 497.16,980.78 497.53,981.41 497.9,982.04 498.27,982.46 498.64,981.78 499.01,980.97 499.38,979.72 499.75,978.69 500.12,979.01 500.49,979.1 500.86,978.9 501.23,979.33 501.6,979.95 501.97,980.46 502.34,980.72 502.71,980.3 503.08,979.26 503.45,977.69 503.82,977.5 504.19,977 504.56,977.56 504.92,978.21 505.29,978.79 505.66,979.12 506.03,978.94 506.4,978.07 506.77,977.22 507.14,977.33 507.51,976.97 507.88,976.66 508.25,977.41 508.62,978.18 508.99,976.95 509.36,962.28 509.73,928.72 510.1,958.39 510.47,975.91 510.84,977.98 511.21,978.47 511.58,978.55 511.95,978.71 512.32,979.19 512.69,979.66 513.06,979.79 513.43,979.34 513.8,978.43 514.16,978.37 514.53,977.41 514.9,976.64 515.27,976.22 515.64,976.22 516.01,977.19 516.38,977.87 516.75,978.45 517.12,978.65 517.49,978.62 517.86,978.46 518.23,978.23 518.6,977.94 518.97,977.66 519.34,977.8 519.71,978.36 520.08,978.91 520.45,978.77 520.82,978.27 521.19,977.79 521.56,978.02 521.93,978.4 522.3,978.77 522.67,978.76 523.04,978.75 523.4,978.67 523.77,978.26 524.14,977.61 524.51,976.05 524.88,963.9 525.25,936.75 525.62,959.98 525.99,973.35 526.36,975.68 526.73,976.39 527.1,976.3 527.47,976.01 527.84,976.19 528.21,976.16 528.58,977.43 528.95,977.44 529.32,977.07 529.69,976.22 530.06,974.73 530.43,974.53 530.8,975.89 531.17,976.88 531.54,977.19 531.91,976.99 532.28,976.41 532.64,975.84 533.01,976.08 533.38,976.72 533.75,977.36 534.12,977.38 534.49,977.28 534.86,977.17 535.23,977.32 535.6,977.25 535.97,976.52 536.34,975.42 536.71,975.43 537.08,975.85 537.45,976.14 537.82,976.17 538.19,976.32 538.56,976.63 538.93,976.86 539.3,976.21 539.67,975.29 540.04,975.02 540.41,975.47 540.78,975.76 541.15,975.73 541.52,974.99 541.88,965.2 542.25,942.64 542.62,962.25 542.99,973.65 543.36,974.73 543.73,975.12 544.1,975.23 544.47,975.45 544.84,975.82 545.21,976.19 545.58,976.01 545.95,975.56 546.32,975.11 546.69,975.45 547.06,975.8 547.43,976.08 547.8,976.08 548.17,976.07 548.54,975.92 548.91,975.83 549.28,975.75 549.65,975.54 550.02,975.09 550.39,974.56 550.76,974.31 551.12,974.54 551.49,975.03 551.86,975.15 552.23,974.8 552.6,974.24 552.97,973.78 553.34,973.47 553.71,973.41 554.08,973.07 554.45,972.95 554.82,973.11 555.19,974.03 555.56,974.86 555.93,975.26 556.3,974.92 556.67,974.51 557.04,974.45 557.41,974.63 557.78,974.64 558.15,974.46 558.52,974.76 558.89,974.69 559.26,974.2 559.63,973.52 560,967.79 560.36,955.48 560.73,967.29 561.1,974.3 561.47,974.72 561.84,974.56 562.21,974.62 562.58,974.78 562.95,974.8 563.32,974.8 563.69,974.85 564.06,974.89 564.43,974.98 564.8,975.1 565.17,975.22 565.54,975.11 565.91,974.95 566.28,974.7 566.65,974.64 567.02,974.65 567.39,975.03 567.76,975.41 568.13,975.64 568.5,975.76 568.87,975.86 569.24,975.95 569.6,975.81 569.97,975.45 570.34,975.08 570.71,974.98 571.08,975 571.45,975.03 571.82,974.93 572.19,974.8 572.56,974.67 572.93,975.01 573.3,975.1 573.67,975.08 574.04,975.03 574.41,975.03 574.78,974.96 575.15,975 575.52,974.91 575.89,974.98 576.26,974.91 576.63,975.01 577,975.04 577.37,974.92 577.74,974.76 578.11,974.88 578.48,975.06 578.84,975.23 579.21,975.28 579.58,975.33 579.95,975.3 580.32,974.6 580.69,971.5 581.06,964.85 581.43,960.84 581.8,964.67 582.17,970.88 582.54,974.08 582.91,974.7 583.28,974.85 583.65,975.05 584.02,975.23 584.39,975.47 584.76,975.72 585.13,975.96 585.5,975.75 585.87,975.53 586.24,975.32 586.61,975.1 586.98,974.89 587.35,974.75 587.72,974.75 588.08,974.75 588.45,974.89 588.82,975.15 589.19,975.31 589.56,975.19 589.93,974.81 590.3,974.4 590.67,973.95 591.04,973.84 591.41,973.98 591.78,974.78 592.15,975.45 592.52,975.92 592.89,976.15 593.26,976.32 593.63,976.41 594,976.33 594.37,976.26 594.74,976.18 595.11,976.11 595.48,976.04 595.85,975.98 596.22,975.92 596.59,975.86 596.96,976.12 597.32,976.44 597.69,976.77 598.06,976.68 598.43,976.59 598.8,976.5 599.17,976.35 599.54,976.2 599.91,976.18 600.28,976.4 600.65,976.62 601.02,976.79 601.39,976.91 601.76,977.03 602.13,976.93 602.5,976.72 602.87,976.5 603.24,976.6 603.61,976.72 603.98,976.6 604.35,975.49 604.72,973.12 605.09,970.15 605.46,968.86 605.83,970.17 606.2,972.81 606.56,975.02 606.93,976.2 607.3,976.71 607.67,977.01 608.04,977.21 608.41,977.16 608.78,976.97 609.15,976.79 609.52,976.85 609.89,976.96 610.26,977.02 610.63,976.78 611,975.74 611.37,973.86 611.74,972.88 612.11,973.94 612.48,975.82 612.85,977.04 613.22,977.47 613.59,977.63 613.96,977.77 614.33,977.9 614.7,978.05 615.07,978.21 615.44,978.37 615.8,978.1 616.17,977.74 616.54,977.39 616.91,977.44 617.28,977.49 617.65,977.53 618.02,977.56 618.39,977.59 618.76,977.59 619.13,977.56 619.5,977.52 619.87,977.57 620.24,977.71 620.61,977.85 620.98,977.76 621.35,977.57 621.72,977.37 622.09,977.53 622.46,977.77 622.83,978.01 623.2,977.79 623.57,977.56 623.94,977.45 624.31,977.86 624.68,978.27 625.04,978.5 625.41,978.37 625.78,978.25 626.15,978.15 626.52,978.07 626.89,977.99 627.26,977.9 627.63,977.8 628,977.71 628.37,977.81 628.74,977.95 629.11,978.1 629.48,977.99 629.85,977.89 630.22,977.83 630.59,978.03 630.96,978.23 631.33,978.31 631.7,978.16 632.07,977.79 632.44,976.8 632.81,975.16 633.18,974.22 633.55,975.03 633.92,976.6 634.28,977.72 634.65,978.34 635.02,978.7 635.39,978.98 635.76,978.72 636.13,978.47 636.5,978.31 636.87,978.61 637.24,978.91 637.61,979.07 637.98,978.97 638.35,978.86 638.72,978.85 639.09,978.96 639.46,979.06 639.83,978.92 640.2,978.66 640.57,978.4 640.94,978.57 641.31,978.78 641.68,978.94 642.05,978.54 642.42,978.08 642.79,977.68 643.16,977.75 643.52,977.96 643.89,978.22 644.26,978.37 644.63,978.58 645,978.72 645.37,978.74 645.74,978.7 646.11,978.68 646.48,978.66 646.85,978.61 647.22,978.92 647.59,979.3 647.96,979.67 648.33,979.48 648.7,979.28 649.07,979.14 649.44,979.25 649.81,979.36 650.18,979.41 650.55,979.14 650.92,978.65 651.29,978.77 651.66,978.95 652.03,979.47 652.4,979.9 652.76,980.03 653.13,980.08 653.5,980.09 653.87,980.08 654.24,979.9 654.61,979.35 654.98,979.27 655.35,979.25 655.72,979.46 656.09,979.64 656.46,979.7 656.83,979.42 657.2,979.17 657.57,979.46 657.94,979.93 658.31,980.23 658.68,980.18 659.05,979.99 659.42,979.8 659.79,979.72 660.16,979.66 660.53,979.6 660.9,979.9 661.27,980.19 661.64,980.41 662,980.2 662.37,980 662.74,979.86 663.11,979.86 663.48,979.85 663.85,979.82 664.22,979.71 664.59,979.43 664.96,978.95 665.33,978.16 665.7,977.32 666.07,976.89 666.44,977.25 666.81,978.13 667.18,979.2 667.55,980 667.92,980.43 668.29,980.42 668.66,980.31 669.03,980.28 669.4,980.41 669.77,980.39 670.14,980.27 670.51,980.31 670.88,980.41 671.24,980.41 671.61,980.3 671.98,980.22 672.35,980.2 672.72,980.21 673.09,980.16 673.46,980.27 673.83,980.36 674.2,980.48 674.57,980.76 674.94,981.03 675.31,981.21 675.68,981.19 676.05,981.17 676.42,981.13 676.79,981.07 677.16,981.01 677.53,980.98 677.9,980.98 678.27,980.97 678.64,980.87 679.01,980.76 679.38,980.64 679.75,980.82 680.12,981 680.48,981.13 680.85,981.02 681.22,980.91 681.59,980.85 681.96,980.89 682.33,980.94" fill="none" stroke="#000" stroke-width="0.9" stroke-linejoin="round"/>
<path d="M683.3,1257.8 V1095.3" fill="none" stroke="#484848" stroke-width="1.05"/>
<path d="M50,1095.3 V1257.8 H683.8" fill="none" stroke="#2a2a2a" stroke-width="1.2"/>
<line x1="50" y1="1095.3" x2="69.8" y2="1095.3" stroke="#484848" stroke-width="1.05"/>
<line x1="341" y1="1095.3" x2="683.3" y2="1095.3" stroke="#484848" stroke-width="1.05"/>
<path d="M50,1249.6 h-2M50,1242.9 h-3.9M50,1236.2 h-2M50,1229.5 h-2M50,1222.8 h-2M50,1216.1 h-2M50,1209.4 h-3.9M50,1202.7 h-2M50,1196 h-2M50,1189.3 h-2M50,1182.6 h-2M50,1175.9 h-3.9M50,1169.2 h-2M50,1162.5 h-2M50,1155.8 h-2M50,1149.1 h-2M50,1142.4 h-3.9M50,1135.7 h-2M50,1129 h-2M50,1122.3 h-2M50,1115.6 h-2M50,1108.9 h-3.9M50,1102.2 h-2" fill="none" stroke="#333" stroke-width="1"/>
<text x="44.6" y="1247.5" font-size="12.9" text-anchor="end" fill="#111">0</text>
<text x="44.6" y="1214" font-size="12.9" text-anchor="end" fill="#111">25</text>
<text x="44.6" y="1180.5" font-size="12.9" text-anchor="end" fill="#111">50</text>
<text x="44.6" y="1147" font-size="12.9" text-anchor="end" fill="#111">75</text>
<text x="44.6" y="1113.5" font-size="12.9" text-anchor="end" fill="#111">100</text>
<path d="M53.52,1257.8 v1.9M59.68,1257.8 v1.9M65.84,1257.8 v1.9M72,1257.8 v3.9M78.16,1257.8 v1.9M84.32,1257.8 v1.9M90.48,1257.8 v1.9M96.64,1257.8 v1.9M102.8,1257.8 v3.9M108.96,1257.8 v1.9M115.12,1257.8 v1.9M121.28,1257.8 v1.9M127.44,1257.8 v1.9M133.6,1257.8 v3.9M139.76,1257.8 v1.9M145.92,1257.8 v1.9M152.08,1257.8 v1.9M158.24,1257.8 v1.9M164.4,1257.8 v3.9M170.56,1257.8 v1.9M176.72,1257.8 v1.9M182.88,1257.8 v1.9M189.04,1257.8 v1.9M195.2,1257.8 v3.9M201.36,1257.8 v1.9M207.52,1257.8 v1.9M213.68,1257.8 v1.9M219.84,1257.8 v1.9M226,1257.8 v3.9M232.16,1257.8 v1.9M238.32,1257.8 v1.9M244.48,1257.8 v1.9M250.64,1257.8 v1.9M256.8,1257.8 v3.9M262.96,1257.8 v1.9M269.12,1257.8 v1.9M275.28,1257.8 v1.9M281.44,1257.8 v1.9M287.6,1257.8 v3.9M293.76,1257.8 v1.9M299.92,1257.8 v1.9M306.08,1257.8 v1.9M312.24,1257.8 v1.9M318.4,1257.8 v3.9M324.56,1257.8 v1.9M330.72,1257.8 v1.9M336.88,1257.8 v1.9M343.04,1257.8 v1.9M349.2,1257.8 v3.9M355.36,1257.8 v1.9M361.52,1257.8 v1.9M367.68,1257.8 v1.9M373.84,1257.8 v1.9M380,1257.8 v3.9M386.16,1257.8 v1.9M392.32,1257.8 v1.9M398.48,1257.8 v1.9M404.64,1257.8 v1.9M410.8,1257.8 v3.9M416.96,1257.8 v1.9M423.12,1257.8 v1.9M429.28,1257.8 v1.9M435.44,1257.8 v1.9M441.6,1257.8 v3.9M447.76,1257.8 v1.9M453.92,1257.8 v1.9M460.08,1257.8 v1.9M466.24,1257.8 v1.9M472.4,1257.8 v3.9M478.56,1257.8 v1.9M484.72,1257.8 v1.9M490.88,1257.8 v1.9M497.04,1257.8 v1.9M503.2,1257.8 v3.9M509.36,1257.8 v1.9M515.52,1257.8 v1.9M521.68,1257.8 v1.9M527.84,1257.8 v1.9M534,1257.8 v3.9M540.16,1257.8 v1.9M546.32,1257.8 v1.9M552.48,1257.8 v1.9M558.64,1257.8 v1.9M564.8,1257.8 v3.9M570.96,1257.8 v1.9M577.12,1257.8 v1.9M583.28,1257.8 v1.9M589.44,1257.8 v1.9M595.6,1257.8 v3.9M601.76,1257.8 v1.9M607.92,1257.8 v1.9M614.08,1257.8 v1.9M620.24,1257.8 v1.9M626.4,1257.8 v3.9M632.56,1257.8 v1.9M638.72,1257.8 v1.9M644.88,1257.8 v1.9M651.04,1257.8 v1.9M657.2,1257.8 v3.9M663.36,1257.8 v1.9M669.52,1257.8 v1.9M675.68,1257.8 v1.9M681.84,1257.8 v1.9" fill="none" stroke="#333" stroke-width="1"/>
<text x="102.8" y="1272.4" font-size="12.9" text-anchor="middle" fill="#111">10</text>
<text x="164.4" y="1272.4" font-size="12.9" text-anchor="middle" fill="#111">15</text>
<text x="226" y="1272.4" font-size="12.9" text-anchor="middle" fill="#111">20</text>
<text x="287.6" y="1272.4" font-size="12.9" text-anchor="middle" fill="#111">25</text>
<text x="349.2" y="1272.4" font-size="12.9" text-anchor="middle" fill="#111">30</text>
<text x="410.8" y="1272.4" font-size="12.9" text-anchor="middle" fill="#111">35</text>
<text x="472.4" y="1272.4" font-size="12.9" text-anchor="middle" fill="#111">40</text>
<text x="534" y="1272.4" font-size="12.9" text-anchor="middle" fill="#111">45</text>
<text x="595.6" y="1272.4" font-size="12.9" text-anchor="middle" fill="#111">50</text>
<text x="657.2" y="1272.4" font-size="12.9" text-anchor="middle" fill="#111">55</text>
<text x="367" y="1293.4" font-size="18.2" text-anchor="middle" textLength="166" lengthAdjust="spacingAndGlyphs" fill="#111">Retention time (min)</text>
<text transform="translate(14.4,1175.9) rotate(-90)" font-size="18.2" text-anchor="middle" textLength="93.5" lengthAdjust="spacingAndGlyphs" fill="#111">Abundance</text>
<text x="4.6" y="1092.2" font-size="19.3" font-weight="bold" textLength="12.2" lengthAdjust="spacingAndGlyphs" fill="#111">e</text>
<text x="76.2" y="1106.8" font-size="23.5" textLength="251.2" lengthAdjust="spacingAndGlyphs" fill="#111">Crude oil + ZS1 + CT10</text>
<path d="M51.06,1236.82 51.43,1237.82 51.8,1239.95 52.16,1242.07 52.53,1243 52.9,1243.47 53.27,1244.63 53.64,1246.08 54.01,1247.4 54.38,1248.13 54.75,1248.15 55.12,1248.13 55.49,1248.16 55.86,1248.21 56.23,1248.27 56.6,1248.31 56.97,1248.34 57.34,1248.36 57.71,1248.42 58.08,1248.46 58.45,1248.48 58.82,1248.47 59.19,1248.47 59.56,1248.46 59.93,1248.45 60.3,1248.44 60.67,1248.45 61.04,1248.48 61.4,1248.51 61.77,1248.55 62.14,1248.59 62.51,1248.62 62.88,1248.61 63.25,1248.51 63.62,1247.43 63.99,1244.9 64.36,1246.93 64.73,1247.78 65.1,1244.12 65.47,1235.53 65.84,1243.24 66.21,1247.82 66.58,1248.41 66.95,1248.54 67.32,1248.55 67.69,1248.53 68.06,1248.54 68.43,1248.56 68.8,1248.59 69.17,1248.7 69.54,1248.91 69.91,1249.06 70.28,1249 70.64,1248.87 71.01,1248.74 71.38,1248.36 71.75,1245.03 72.12,1237.54 72.49,1244 72.86,1247.46 73.23,1247.19 73.6,1246.89 73.97,1247.27 74.34,1248.02 74.71,1248.59 75.08,1248.87 75.45,1248.93 75.82,1248.94 76.19,1248.94 76.56,1248.9 76.93,1248.85 77.3,1248.8 77.67,1248.75 78.04,1248.7 78.41,1248.67 78.78,1248.67 79.15,1248.67 79.52,1248.68 79.88,1248.68 80.25,1248.69 80.62,1248.75 80.99,1248.84 81.36,1248.93 81.73,1248.93 82.1,1248.92 82.47,1248.9 82.84,1248.84 83.21,1248.78 83.58,1248.73 83.95,1248.77 84.32,1248.81 84.69,1248.85 85.06,1248.86 85.43,1248.88 85.8,1248.85 86.17,1248.72 86.54,1248.51 86.91,1248.5 87.28,1248.78 87.65,1249.09 88.02,1249.08 88.39,1248.96 88.76,1248.87 89.12,1248.82 89.49,1248.77 89.86,1248.74 90.23,1248.77 90.6,1248.79 90.97,1248.81 91.34,1248.79 91.71,1248.77 92.08,1248.8 92.45,1248.88 92.82,1248.97 93.19,1248.97 93.56,1248.94 93.93,1248.91 94.3,1248.86 94.67,1248.81 95.04,1248.76 95.41,1248.88 95.78,1249 96.15,1249.09 96.52,1249.06 96.89,1249.02 97.26,1248.98 97.63,1248.91 98,1248.83 98.36,1248.86 98.73,1248.98 99.1,1249.1 99.47,1249.09 99.84,1249.01 100.21,1248.93 100.58,1248.92 100.95,1248.93 101.32,1248.94 101.69,1249.02 102.06,1249.09 102.43,1249.14 102.8,1249.04 103.17,1248.94 103.54,1248.89 103.91,1248.92 104.28,1248.96 104.65,1249.02 105.02,1249.08 105.39,1249.06 105.76,1248.75 106.13,1248.28 106.5,1247.99 106.87,1248.13 107.24,1248.45 107.6,1248.75 107.97,1248.97 108.34,1249.09 108.71,1249.18 109.08,1249.25 109.45,1249.33 109.82,1249.38 110.19,1249.43 110.56,1249.47 110.93,1249.3 111.3,1249.17 111.67,1249.16 112.04,1249.15 112.41,1249.13 112.78,1249.11 113.15,1249.19 113.52,1249.26 113.89,1249.35 114.26,1249.31 114.63,1249.28 115,1249.24 115.37,1249.2 115.74,1249.15 116.11,1249.12 116.48,1249.14 116.84,1249.16 117.21,1249.21 117.58,1249.26 117.95,1249.22 118.32,1249.14 118.69,1249.2 119.06,1249.31 119.43,1249.35 119.8,1249.34 120.17,1249.32 120.54,1249.32 120.91,1249.33 121.28,1249.31 121.65,1249.23 122.02,1249.14 122.39,1249.08 122.76,1249.07 123.13,1249.01 123.5,1249.05 123.87,1249.25 124.24,1249.47 124.61,1249.49 124.98,1249.43 125.35,1249.37 125.72,1249.38 126.08,1249.43 126.45,1249.51 126.82,1249.38 127.19,1249.26 127.56,1249.16 127.93,1249.22 128.3,1249.28 128.67,1249.29 129.04,1249.23 129.41,1249.16 129.78,1249.12 130.15,1249.12 130.52,1249.11 130.89,1249.1 131.26,1249.09 131.63,1249.08 132,1249.19 132.37,1249.32 132.74,1249.46 133.11,1249.47 133.48,1249.48 133.85,1249.47 134.22,1249.33 134.59,1249.2 134.96,1249.12 135.32,1249.16 135.69,1249.18 136.06,1249.16 136.43,1249.11 136.8,1249.07 137.17,1249.21 137.54,1249.41 137.91,1249.33 138.28,1249.22 138.65,1249.18 139.02,1249.08 139.39,1248.6 139.76,1244.55 140.13,1235.53 140.5,1243.57 140.87,1248.36 141.24,1248.97 141.61,1249.07 141.98,1249.07 142.35,1249.06 142.72,1249.06 143.09,1249.07 143.46,1249.03 143.83,1248.97 144.2,1248.9 144.56,1248.98 144.93,1249.08 145.3,1249.18 145.67,1249.09 146.04,1249.01 146.41,1248.93 146.78,1248.9 147.15,1248.86 147.52,1248.83 147.89,1248.8 148.26,1248.76 148.63,1248.72 149,1248.67 149.37,1248.62 149.74,1248.66 150.11,1248.75 150.48,1248.84 150.85,1248.75 151.22,1248.63 151.59,1248.5 151.96,1248.54 152.33,1248.58 152.7,1248.62 153.07,1248.67 153.44,1248.72 153.8,1248.76 154.17,1248.82 154.54,1248.85 154.91,1248.78 155.28,1248.71 155.65,1248.71 156.02,1248.65 156.39,1248.49 156.76,1248.34 157.13,1248.5 157.5,1248.72 157.87,1248.89 158.24,1248.69 158.61,1248.46 158.98,1248.23 159.35,1248.16 159.72,1247.95 160.09,1247.61 160.46,1247.27 160.83,1247.19 161.2,1247.37 161.57,1247.71 161.94,1248.11 162.31,1248.41 162.68,1248.57 163.04,1248.61 163.41,1248.66 163.78,1248.7 164.15,1248.73 164.52,1248.56 164.89,1248.37 165.26,1248.12 165.63,1247.34 166,1245.98 166.37,1246.33 166.74,1247.49 167.11,1247.42 167.48,1246.89 167.85,1247.67 168.22,1248.5 168.59,1248.69 168.96,1248.66 169.33,1248.63 169.7,1248.41 170.07,1248.15 170.44,1247.87 170.81,1247.84 171.18,1247.66 171.55,1247.47 171.92,1247.49 172.28,1247.2 172.65,1245.93 173.02,1234.61 173.39,1209 173.76,1232.5 174.13,1246.47 174.5,1248.29 174.87,1248.52 175.24,1248.27 175.61,1247.94 175.98,1248.02 176.35,1248.18 176.72,1248.28 177.09,1248.09 177.46,1245.31 177.83,1238.88 178.2,1244.59 178.57,1247.24 178.94,1246.04 179.31,1245.78 179.68,1246.81 180.05,1247.72 180.42,1247.71 180.79,1247.27 181.16,1247.32 181.52,1247.06 181.89,1247.27 182.26,1247.28 182.63,1247.01 183,1246.41 183.37,1246.02 183.74,1245.92 184.11,1246.72 184.48,1246.89 184.85,1246.33 185.22,1245.69 185.59,1246.6 185.96,1246.87 186.33,1246.57 186.7,1246.4 187.07,1246.13 187.44,1245.63 187.81,1245.31 188.18,1245.39 188.55,1245.81 188.92,1246.21 189.29,1246.44 189.66,1247.01 190.03,1247.36 190.4,1247.3 190.76,1246.84 191.13,1246.13 191.5,1246.27 191.87,1246.59 192.24,1246.36 192.61,1245.56 192.98,1244.22 193.35,1243.57 193.72,1244.55 194.09,1246.22 194.46,1247.37 194.83,1246.97 195.2,1242.82 195.57,1233.92 195.94,1241.45 196.31,1245.96 196.68,1246.55 197.05,1246.39 197.42,1245.8 197.79,1246.05 198.16,1245.64 198.53,1244.69 198.9,1244.65 199.27,1245.63 199.64,1246.27 200,1246.74 200.37,1247.15 200.74,1247.2 201.11,1246.29 201.48,1245.91 201.85,1245.66 202.22,1245.84 202.59,1245.84 202.96,1245.77 203.33,1245.84 203.7,1246.12 204.07,1244.09 204.44,1220.52 204.81,1167.86 205.18,1213.96 205.55,1241.1 205.92,1244.08 206.29,1244.97 206.66,1244.67 207.03,1243.42 207.4,1242.9 207.77,1244.04 208.14,1245.7 208.51,1246.47 208.88,1246.58 209.24,1246.4 209.61,1246.21 209.98,1246.02 210.35,1246 210.72,1246.35 211.09,1246.66 211.46,1246.42 211.83,1245.13 212.2,1243.1 212.57,1241.83 212.94,1242.34 213.31,1243.6 213.68,1245.14 214.05,1246.15 214.42,1246.86 214.79,1246.07 215.16,1244.87 215.53,1245.02 215.9,1246.1 216.27,1246.95 216.64,1247.2 217.01,1246.13 217.38,1244.9 217.75,1244.38 218.12,1244.32 218.48,1243.16 218.85,1241.11 219.22,1240.22 219.59,1241.89 219.96,1244.35 220.33,1245.94 220.7,1246.03 221.07,1245.5 221.44,1245.79 221.81,1244.07 222.18,1238.88 222.55,1243.43 222.92,1245.49 223.29,1244.51 223.66,1244.58 224.03,1244.23 224.4,1243.03 224.77,1240.76 225.14,1239.55 225.51,1241.23 225.88,1244.05 226.25,1245.08 226.62,1240.17 226.99,1228.16 227.36,1238.71 227.72,1244.48 228.09,1245.01 228.46,1245.64 228.83,1246.44 229.2,1246.7 229.57,1246.3 229.94,1245.09 230.31,1243.27 230.68,1242.39 231.05,1243.58 231.42,1244.96 231.79,1245.87 232.16,1246.54 232.53,1246.09 232.9,1243.21 233.27,1214.57 233.64,1149.1 234.01,1205.95 234.38,1239.47 234.75,1243.46 235.12,1243.2 235.49,1241.14 235.86,1240.22 236.23,1241.92 236.6,1243.82 236.96,1244.25 237.33,1243.8 237.7,1244.06 238.07,1245.45 238.44,1246.57 238.81,1246.27 239.18,1245.72 239.55,1245.16 239.92,1245.6 240.29,1245.83 240.66,1245.26 241.03,1243.83 241.4,1243.65 241.77,1244.16 242.14,1245.02 242.51,1245.61 242.88,1245.67 243.25,1244.9 243.62,1242.35 243.99,1237.18 244.36,1233.79 244.73,1235.63 245.1,1238.94 245.47,1242.84 245.84,1244.27 246.2,1244.37 246.57,1243.03 246.94,1240.15 247.31,1237.54 247.68,1237.83 248.05,1241.3 248.42,1243.83 248.79,1244.26 249.16,1241.62 249.53,1235.5 249.9,1240.85 250.27,1243.08 250.64,1234.77 251.01,1215.56 251.38,1233.14 251.75,1243.97 252.12,1245.9 252.49,1245.67 252.86,1243.88 253.23,1240.66 253.6,1238.88 253.97,1240.47 254.34,1243.08 254.71,1243.8 255.08,1242.72 255.44,1242.19 255.81,1243.47 256.18,1245.04 256.55,1245.2 256.92,1244.56 257.29,1243.84 257.66,1244.01 258.03,1244.32 258.4,1244 258.77,1242.29 259.14,1242.6 259.51,1242.81 259.88,1241.98 260.25,1239.93 260.62,1238.97 260.99,1213.77 261.36,1154.46 261.73,1207.5 262.1,1239.66 262.47,1244.22 262.84,1244.04 263.21,1241.93 263.58,1240.22 263.95,1241.21 264.32,1243.05 264.68,1244.52 265.05,1245.26 265.42,1245.75 265.79,1245.93 266.16,1244.91 266.53,1243.87 266.9,1243.4 267.27,1243.69 267.64,1243.75 268.01,1244.07 268.38,1243.38 268.75,1243.53 269.12,1244.33 269.49,1245.14 269.86,1245.8 270.23,1245.11 270.6,1244.11 270.97,1242.9 271.34,1242.34 271.71,1242.94 272.08,1243.36 272.45,1242.82 272.82,1241.72 273.19,1240.52 273.56,1239.55 273.92,1239.05 274.29,1239.57 274.66,1241.61 275.03,1243.25 275.4,1242.65 275.77,1240.11 276.14,1236.84 276.51,1236.19 276.88,1237.37 277.25,1238.66 277.62,1238.25 277.99,1237.09 278.36,1235.93 278.73,1238.18 279.1,1241.13 279.47,1241.95 279.84,1239.84 280.21,1238.19 280.58,1238.83 280.95,1240.53 281.32,1241.6 281.69,1242.21 282.06,1242.63 282.43,1242.94 282.8,1242.78 283.16,1242.54 283.53,1242.27 283.9,1242.97 284.27,1242.92 284.64,1242.66 285.01,1242.25 285.38,1242.11 285.75,1242.08 286.12,1243.22 286.49,1243.97 286.86,1242.79 287.23,1239.04 287.6,1215.8 287.97,1164.64 288.34,1210.68 288.71,1237.74 289.08,1241 289.45,1241.45 289.82,1240.73 290.19,1239.55 290.56,1239.25 290.93,1240.38 291.3,1241.76 291.67,1242.47 292.04,1242.52 292.4,1242.03 292.77,1241.53 293.14,1241.76 293.51,1242.72 293.88,1243.6 294.25,1242.94 294.62,1241.48 294.99,1240.41 295.36,1240.75 295.73,1240.96 296.1,1241.37 296.47,1242.48 296.84,1243.38 297.21,1243.99 297.58,1243.63 297.95,1243.09 298.32,1242.34 298.69,1242.74 299.06,1242 299.43,1240.36 299.8,1234.8 300.17,1220.52 300.54,1234.04 300.91,1241.36 301.28,1241.45 301.64,1241.54 302.01,1241.59 302.38,1241.58 302.75,1241.65 303.12,1241.49 303.49,1238.94 303.86,1233.52 304.23,1240.09 304.6,1243.75 304.97,1243.25 305.34,1242.44 305.71,1241.86 306.08,1241.45 306.45,1240.66 306.82,1239.81 307.19,1239.55 307.56,1240.26 307.93,1240.92 308.3,1241.23 308.67,1241.16 309.04,1241.17 309.41,1241.13 309.78,1241.15 310.15,1241.47 310.52,1241.8 310.88,1241.99 311.25,1241.86 311.62,1241.34 311.99,1239.5 312.36,1219.92 312.73,1175.1 313.1,1214.92 313.47,1236.89 313.84,1226.14 314.21,1197.83 314.58,1224.7 314.95,1240.44 315.32,1241.25 315.69,1240.73 316.06,1239.25 316.43,1238.21 316.8,1238.37 317.17,1239.39 317.54,1241.38 317.91,1242.75 318.28,1243.35 318.65,1243.78 319.02,1244.14 319.39,1244.15 319.76,1243.99 320.12,1243.83 320.49,1243.66 320.86,1243.48 321.23,1243.3 321.6,1243.37 321.97,1243.43 322.34,1243.49 322.71,1243.48 323.08,1242.59 323.45,1240.04 323.82,1237.54 324.19,1237.88 324.56,1239.59 324.93,1240.79 325.3,1241.07 325.67,1241.53 326.04,1242.14 326.41,1242.48 326.78,1241.1 327.15,1238.66 327.52,1236.87 327.89,1237.36 328.26,1238.97 328.63,1240.36 329,1242 329.36,1243.2 329.73,1243.44 330.1,1241.88 330.47,1240.32 330.84,1238.59 331.21,1238.21 331.58,1238.73 331.95,1239.74 332.32,1241.6 332.69,1243.03 333.06,1242.5 333.43,1241.54 333.8,1240.44 334.17,1240.35 334.54,1240.64 334.91,1240.88 335.28,1240.85 335.65,1239.42 336.02,1222.57 336.39,1183.94 336.76,1217.36 337.13,1236.39 337.5,1238.51 337.87,1239.07 338.24,1234.2 338.6,1221.46 338.97,1234.83 339.34,1241.22 339.71,1241.24 340.08,1240.46 340.45,1240.97 340.82,1241.43 341.19,1241.86 341.56,1242.15 341.93,1242.43 342.3,1242.64 342.67,1242.69 343.04,1242.75 343.41,1242.58 343.78,1242.2 344.15,1241.77 344.52,1241.45 344.89,1241.21 345.26,1242.18 345.63,1240.97 346,1238.54 346.37,1237.36 346.74,1238.74 347.11,1239.69 347.48,1240.35 347.84,1239.4 348.21,1239.93 348.58,1240.06 348.95,1239.55 349.32,1239.09 349.69,1239.48 350.06,1240.19 350.43,1240.61 350.8,1241.33 351.17,1242.23 351.54,1243.14 351.91,1243.08 352.28,1242.36 352.65,1241.5 353.02,1241.38 353.39,1240.53 353.76,1239.26 354.13,1239.6 354.5,1240.13 354.87,1240.26 355.24,1240.7 355.61,1241.08 355.98,1240.83 356.35,1239.77 356.72,1239.1 357.08,1234.86 357.45,1238.45 357.82,1240.25 358.19,1240.44 358.56,1239.21 358.93,1222.75 359.3,1184.48 359.67,1218.21 360.04,1238.22 360.41,1240.85 360.78,1241.62 361.15,1241.64 361.52,1241 361.89,1240.35 362.26,1240.23 362.63,1240.56 363,1240.22 363.37,1239.92 363.74,1241.33 364.11,1242.8 364.48,1242.5 364.85,1241.8 365.22,1241.09 365.59,1241.1 365.96,1240.54 366.32,1241.61 366.69,1242.29 367.06,1242.6 367.43,1242.65 367.8,1242.22 368.17,1241.79 368.54,1241.72 368.91,1242.01 369.28,1242.29 369.65,1241.79 370.02,1240.91 370.39,1240.02 370.76,1240.65 371.13,1241.58 371.5,1242.5 371.87,1242.08 372.24,1241.65 372.61,1241.41 372.98,1242.09 373.35,1242.77 373.72,1243.09 374.09,1242.7 374.46,1242.31 374.83,1241.89 375.2,1241.44 375.56,1240.99 375.93,1240.96 376.3,1241.14 376.67,1241.33 377.04,1241.18 377.41,1240.96 377.78,1240.75 378.15,1240.85 378.52,1240.96 378.89,1241.03 379.26,1240.91 379.63,1240.49 380,1238.99 380.37,1223.88 380.74,1189.3 381.11,1220.26 381.48,1237.91 381.85,1239.33 382.22,1239.82 382.59,1240.28 382.96,1240.62 383.33,1241.32 383.7,1242.08 384.07,1242.75 384.44,1241.33 384.8,1239.92 385.17,1239.56 385.54,1240.81 385.91,1241.75 386.28,1242.2 386.65,1241.89 387.02,1241.58 387.39,1241.28 387.76,1240.99 388.13,1240.69 388.5,1240.39 388.87,1240.08 389.24,1239.78 389.61,1240.46 389.98,1241.3 390.35,1241.84 390.72,1241.27 391.09,1241.47 391.46,1241.65 391.83,1241.45 392.2,1241.18 392.57,1240.94 392.94,1240.73 393.31,1240.53 393.68,1240.56 394.04,1240.82 394.41,1241.08 394.78,1240.97 395.15,1240.67 395.52,1240.34 395.89,1239.85 396.26,1237.98 396.63,1234.19 397,1238.36 397.37,1241.28 397.74,1242.35 398.11,1242 398.48,1241.61 398.85,1241.19 399.22,1240.73 399.59,1240.27 399.96,1240.02 400.33,1239.94 400.7,1239.56 401.07,1237.82 401.44,1222.09 401.81,1186.89 402.18,1218.63 402.55,1237.83 402.92,1240.81 403.28,1241.45 403.65,1241.6 404.02,1241.09 404.39,1239.92 404.76,1239.99 405.13,1240.16 405.5,1240.06 405.87,1239.85 406.24,1239.67 406.61,1239.37 406.98,1239.13 407.35,1239.54 407.72,1240.14 408.09,1240.55 408.46,1240.98 408.83,1241.29 409.2,1241.41 409.57,1240.79 409.94,1239.71 410.31,1238.85 410.68,1239.66 411.05,1240.68 411.42,1241.34 411.79,1241.63 412.16,1241.88 412.52,1242 412.89,1241.99 413.26,1241.99 413.63,1241.71 414,1241.3 414.37,1240.88 414.74,1240.74 415.11,1240.51 415.48,1239.67 415.85,1238.59 416.22,1239.1 416.59,1239.73 416.96,1240.03 417.33,1240.02 417.7,1239.7 418.07,1238.92 418.44,1238 418.81,1239.09 419.18,1239.59 419.55,1239.48 419.92,1239.69 420.29,1239.82 420.66,1238.72 421.03,1222.97 421.4,1187.96 421.76,1217.73 422.13,1235.93 422.5,1238.27 422.87,1238.86 423.24,1238.79 423.61,1238.61 423.98,1238.56 424.35,1238.81 424.72,1239.06 425.09,1239.16 425.46,1238.9 425.83,1238.54 426.2,1238.6 426.57,1238.51 426.94,1238.18 427.31,1238.25 427.68,1238.24 428.05,1237.47 428.42,1236.4 428.79,1236.47 429.16,1237.16 429.53,1237.46 429.9,1237.7 430.27,1237.9 430.64,1238.73 431,1239.47 431.37,1239.77 431.74,1239.65 432.11,1239.53 432.48,1239.05 432.85,1238.38 433.22,1237.25 433.59,1236.55 433.96,1237.16 434.33,1237.03 434.7,1238.35 435.07,1239.33 435.44,1239.5 435.81,1238.64 436.18,1237.78 436.55,1237.31 436.92,1237.63 437.29,1237.95 437.66,1238.41 438.03,1239.04 438.4,1239.65 438.77,1239.55 439.14,1238.8 439.51,1236.78 439.88,1220.9 440.24,1185.28 440.61,1216.94 440.98,1235.79 441.35,1238.15 441.72,1238.67 442.09,1238.29 442.46,1237.8 442.83,1237.65 443.2,1238.18 443.57,1238.7 443.94,1238.88 444.31,1238.46 444.68,1238.14 445.05,1238.02 445.42,1237.73 445.79,1237.09 446.16,1237.23 446.53,1237.54 446.9,1237.85 447.27,1237.95 447.64,1238.05 448.01,1237.83 448.38,1236.96 448.75,1236.89 449.12,1236.93 449.48,1237.16 449.85,1237.37 450.22,1237.38 450.59,1237.18 450.96,1236.98 451.33,1237.27 451.7,1237.8 452.07,1238.33 452.44,1238.43 452.81,1238.43 453.18,1238.43 453.55,1238.37 453.92,1238.31 454.29,1238.22 454.66,1238.04 455.03,1237.86 455.4,1237.68 455.77,1237.53 456.14,1237.38 456.51,1237.47 456.88,1237.78 457.25,1237.82 457.62,1236.24 457.99,1222.26 458.36,1191.31 458.72,1218.03 459.09,1233.69 459.46,1235.23 459.83,1235.85 460.2,1236.1 460.57,1236.36 460.94,1237.07 461.31,1237.77 461.68,1237.8 462.05,1236.84 462.42,1236.66 462.79,1236.57 463.16,1236.29 463.53,1235.91 463.9,1236.34 464.27,1236.98 464.64,1237.52 465.01,1236.7 465.38,1235.45 465.75,1234.22 466.12,1234.55 466.49,1234.94 466.86,1235.17 467.23,1235.26 467.6,1234.89 467.96,1234.22 468.33,1233.76 468.7,1233.03 469.07,1232.97 469.44,1234.37 469.81,1235.04 470.18,1235.2 470.55,1235.39 470.92,1235.57 471.29,1235.41 471.66,1235.17 472.03,1234.94 472.4,1234.95 472.77,1234.97 473.14,1235 473.51,1235.11 473.88,1235.21 474.25,1235.17 474.62,1234.62 474.99,1232.69 475.36,1218.43 475.73,1187.29 476.1,1215.86 476.47,1231.8 476.84,1232.51 477.2,1232.06 477.57,1232.65 477.94,1233.66 478.31,1234.6 478.68,1234.88 479.05,1234.94 479.42,1234.94 479.79,1235.02 480.16,1235.11 480.53,1234.96 480.9,1234.35 481.27,1233.54 481.64,1232.98 482.01,1233.6 482.38,1234.11 482.75,1234.13 483.12,1234 483.49,1233.81 483.86,1233.28 484.23,1232.62 484.6,1233.3 484.97,1233.7 485.34,1233.25 485.71,1232.83 486.08,1233.35 486.44,1234 486.81,1234.06 487.18,1233.65 487.55,1234.13 487.92,1234.16 488.29,1233.48 488.66,1232.77 489.03,1232.71 489.4,1232.86 489.77,1232.87 490.14,1233.26 490.51,1233.72 490.88,1234.17 491.25,1234.04 491.62,1233.64 491.99,1231.93 492.36,1218.77 492.73,1190.37 493.1,1214.8 493.47,1229.59 493.84,1231.26 494.21,1231.66 494.58,1232.1 494.95,1232.46 495.32,1232.55 495.68,1232.51 496.05,1232.48 496.42,1232.21 496.79,1231.88 497.16,1231.42 497.53,1231.06 497.9,1231.02 498.27,1230.94 498.64,1230.59 499.01,1230.01 499.38,1229.34 499.75,1228.92 500.12,1228.83 500.49,1229.05 500.86,1229.36 501.23,1229.53 501.6,1228.64 501.97,1227.01 502.34,1226.22 502.71,1227.14 503.08,1227.66 503.45,1227.37 503.82,1227.49 504.19,1228.15 504.56,1228.9 504.92,1228.98 505.29,1229.04 505.66,1229.15 506.03,1229.49 506.4,1229.78 506.77,1229.51 507.14,1228.71 507.51,1227.87 507.88,1227.73 508.25,1227 508.62,1214.49 508.99,1184.48 509.36,1209.86 509.73,1223.89 510.1,1227.2 510.47,1228.53 510.84,1229.33 511.21,1229.43 511.58,1229.29 511.95,1228.87 512.32,1228.47 512.69,1228.53 513.06,1228.74 513.43,1228.76 513.8,1228.45 514.16,1227.67 514.53,1226.36 514.9,1225.48 515.27,1226.02 515.64,1227.03 516.01,1227.66 516.38,1227.92 516.75,1227.95 517.12,1227.92 517.49,1228.07 517.86,1228.22 518.23,1228.14 518.6,1227.6 518.97,1227.07 519.34,1226.72 519.71,1226.56 520.08,1226.4 520.45,1226.53 520.82,1226.8 521.19,1227.07 521.56,1227.08 521.93,1227.03 522.3,1226.99 522.67,1226.96 523.04,1226.92 523.4,1226.81 523.77,1226.33 524.14,1224.93 524.51,1213.39 524.88,1187.96 525.25,1209.04 525.62,1221.63 525.99,1223.49 526.36,1224.3 526.73,1224.4 527.1,1224.15 527.47,1223.83 527.84,1223.79 528.21,1223.8 528.58,1223.81 528.95,1224.23 529.32,1224.65 529.69,1224.97 530.06,1224.84 530.43,1224.7 530.8,1224.62 531.17,1224.61 531.54,1224.61 531.91,1224.64 532.28,1224.7 532.64,1224.76 533.01,1224.79 533.38,1224.8 533.75,1224.82 534.12,1224.51 534.49,1224.15 534.86,1223.78 535.23,1223.49 535.6,1223.2 535.97,1222.95 536.34,1222.92 536.71,1222.9 537.08,1223.1 537.45,1223.74 537.82,1224.37 538.19,1224.6 538.56,1224.43 538.93,1224.24 539.3,1223.75 539.67,1222.81 540.04,1223.04 540.41,1222.67 540.78,1221.5 541.15,1211.37 541.52,1189.3 541.88,1209.97 542.25,1222.29 542.62,1223.5 542.99,1223.6 543.36,1223.4 543.73,1223.09 544.1,1222.77 544.47,1222.63 544.84,1222.66 545.21,1222.68 545.58,1222.94 545.95,1223.3 546.32,1223.67 546.69,1223.52 547.06,1223.26 547.43,1223 547.8,1222.86 548.17,1222.72 548.54,1222.66 548.91,1223 549.28,1223.33 549.65,1223.38 550.02,1222.85 550.39,1222.3 550.76,1222.01 551.12,1221.95 551.49,1221.79 551.86,1221.59 552.23,1221.4 552.6,1221.28 552.97,1221.19 553.34,1221.28 553.71,1221.53 554.08,1221.99 554.45,1222.46 554.82,1222.75 555.19,1222.4 555.56,1221.98 555.93,1221.83 556.3,1222.3 556.67,1222.75 557.04,1222.84 557.41,1222.59 557.78,1222.33 558.15,1222.2 558.52,1222.1 558.89,1221.88 559.26,1221.24 559.63,1214.74 560,1200.02 560.36,1213.05 560.73,1220.74 561.1,1221.65 561.47,1222.2 561.84,1222.57 562.21,1222.71 562.58,1222.48 562.95,1222.24 563.32,1222.26 563.69,1222.54 564.06,1222.81 564.43,1222.7 564.8,1222.41 565.17,1222.12 565.54,1222.06 565.91,1222.04 566.28,1222.01 566.65,1222.18 567.02,1222.35 567.39,1222.47 567.76,1222.32 568.13,1222.17 568.5,1222.03 568.87,1221.92 569.24,1221.78 569.6,1221.85 569.97,1222.19 570.34,1222.74 570.71,1223.01 571.08,1223.01 571.45,1222.92 571.82,1222.91 572.19,1222.91 572.56,1222.92 572.93,1222.66 573.3,1222.41 573.67,1222.19 574.04,1222.12 574.41,1222.06 574.78,1222.12 575.15,1222.43 575.52,1222.74 575.89,1222.7 576.26,1222.22 576.63,1221.71 577,1221.99 577.37,1222.49 577.74,1222.88 578.11,1222.85 578.48,1222.73 578.84,1222.62 579.21,1222.34 579.58,1221.41 579.95,1217.56 580.32,1209.51 580.69,1204.44 581.06,1208.99 581.43,1216.55 581.8,1220.74 582.17,1222.04 582.54,1222.61 582.91,1223 583.28,1223.05 583.65,1222.94 584.02,1222.82 584.39,1222.6 584.76,1222.35 585.13,1222.1 585.5,1222.19 585.87,1222.28 586.24,1222.4 586.61,1222.64 586.98,1222.88 587.35,1222.99 587.72,1222.83 588.08,1222.64 588.45,1222.45 588.82,1222.18 589.19,1221.74 589.56,1221.43 589.93,1221.46 590.3,1221.85 590.67,1221.97 591.04,1222 591.41,1221.92 591.78,1222.48 592.15,1222.94 592.52,1223.23 592.89,1222.86 593.26,1222.49 593.63,1222.28 594,1222.39 594.37,1222.51 594.74,1222.58 595.11,1222.61 595.48,1222.64 595.85,1222.74 596.22,1222.76 596.59,1222.67 596.96,1222.95 597.32,1223.16 597.69,1223.25 598.06,1223.16 598.43,1223.07 598.8,1222.97 599.17,1222.79 599.54,1222.61 599.91,1222.62 600.28,1223 600.65,1223.39 601.02,1223.5 601.39,1223.36 601.76,1223.22 602.13,1223.14 602.5,1223.1 602.87,1223 603.24,1222.51 603.61,1221.08 603.98,1218.07 604.35,1214.54 604.72,1212.88 605.09,1214.45 605.46,1217.61 605.83,1220.44 606.2,1222.05 606.56,1222.78 606.93,1223.06 607.3,1223.21 607.67,1223.34 608.04,1223.47 608.41,1223.38 608.78,1223.19 609.15,1222.99 609.52,1223.28 609.89,1223.64 610.26,1223.81 610.63,1222.75 611,1221.09 611.37,1220.12 611.74,1221.09 612.11,1222.67 612.48,1223.73 612.85,1223.91 613.22,1223.81 613.59,1223.96 613.96,1224.12 614.33,1224.18 614.7,1224.08 615.07,1223.93 615.44,1223.77 615.8,1223.63 616.17,1223.49 616.54,1223.36 616.91,1223.37 617.28,1223.37 617.65,1223.39 618.02,1223.47 618.39,1223.54 618.76,1223.63 619.13,1223.73 619.5,1223.84 619.87,1223.88 620.24,1223.79 620.61,1223.69 620.98,1223.76 621.35,1223.83 621.72,1223.8 622.09,1223.84 622.46,1223.89 622.83,1223.94 623.2,1223.87 623.57,1223.8 623.94,1223.73 624.31,1223.68 624.68,1223.63 625.04,1223.68 625.41,1223.9 625.78,1224.13 626.15,1224.08 626.52,1223.75 626.89,1223.42 627.26,1223.53 627.63,1223.85 628,1224.17 628.37,1223.99 628.74,1223.7 629.11,1223.42 629.48,1223.75 629.85,1223.97 630.22,1224.08 630.59,1224.24 630.96,1224.33 631.33,1223.82 631.7,1221.97 632.07,1218.98 632.44,1217.44 632.81,1218.94 633.18,1221.59 633.55,1223.33 633.92,1223.94 634.28,1223.95 634.65,1223.57 635.02,1223.69 635.39,1223.69 635.76,1223.97 636.13,1224.25 636.5,1224.45 636.87,1224.26 637.24,1224.07 637.61,1223.92 637.98,1223.83 638.35,1223.74 638.72,1223.78 639.09,1223.94 639.46,1224.1 639.83,1224.27 640.2,1224.46 640.57,1224.64 640.94,1224.62 641.31,1224.55 641.68,1224.43 642.05,1224.05 642.42,1223.63 642.79,1223.27 643.16,1223.39 643.52,1223.6 643.89,1223.77 644.26,1223.72 644.63,1223.71 645,1223.8 645.37,1223.97 645.74,1224.11 646.11,1224.15 646.48,1224.15 646.85,1224.13 647.22,1224.18 647.59,1224.24 647.96,1224.31 648.33,1224.36 648.7,1224.42 649.07,1224.45 649.44,1224.37 649.81,1224.29 650.18,1224.25 650.55,1224.29 650.92,1224.34 651.29,1224.46 651.66,1224.65 652.03,1224.84 652.4,1224.95 652.76,1225.02 653.13,1225.09 653.5,1224.96 653.87,1224.78 654.24,1224.38 654.61,1224 654.98,1224.36 655.35,1224.57 655.72,1224.31 656.09,1224.05 656.46,1224.18 656.83,1224.29 657.2,1224.32 657.57,1224.48 657.94,1224.54 658.31,1224.45 658.68,1224.5 659.05,1224.66 659.42,1224.81 659.79,1224.9 660.16,1224.97 660.53,1225.05 660.9,1225.15 661.27,1225.25 661.64,1225.33 662,1225.34 662.37,1225.35 662.74,1225.34 663.11,1225.31 663.48,1225.21 663.85,1224.86 664.22,1223.93 664.59,1222.54 664.96,1221.65 665.33,1221.46 665.7,1222 666.07,1222.86 666.44,1223.74 666.81,1224.33 667.18,1224.87 667.55,1225.19 667.92,1225.36 668.29,1225.2 668.66,1225.04 669.03,1224.92 669.4,1224.89 669.77,1224.85 670.14,1224.89 670.51,1225 670.88,1225.11 671.24,1225.13 671.61,1225.1 671.98,1225.06 672.35,1225.21 672.72,1225.38 673.09,1225.56 673.46,1225.51 673.83,1225.46 674.2,1225.43 674.57,1225.46 674.94,1225.49 675.31,1225.51 675.68,1225.52 676.05,1225.52 676.42,1225.42 676.79,1225.24 677.16,1225.06 677.53,1225.14 677.9,1225.35 678.27,1225.5 678.64,1225.17 679.01,1224.8 679.38,1224.67 679.75,1224.75 680.12,1224.75 680.48,1225 680.85,1225.35 681.22,1225.58 681.59,1225.68 681.96,1225.62 682.33,1225.57" fill="none" stroke="#000" stroke-width="0.9" stroke-linejoin="round"/>
</g>
</svg>
</body></html>
